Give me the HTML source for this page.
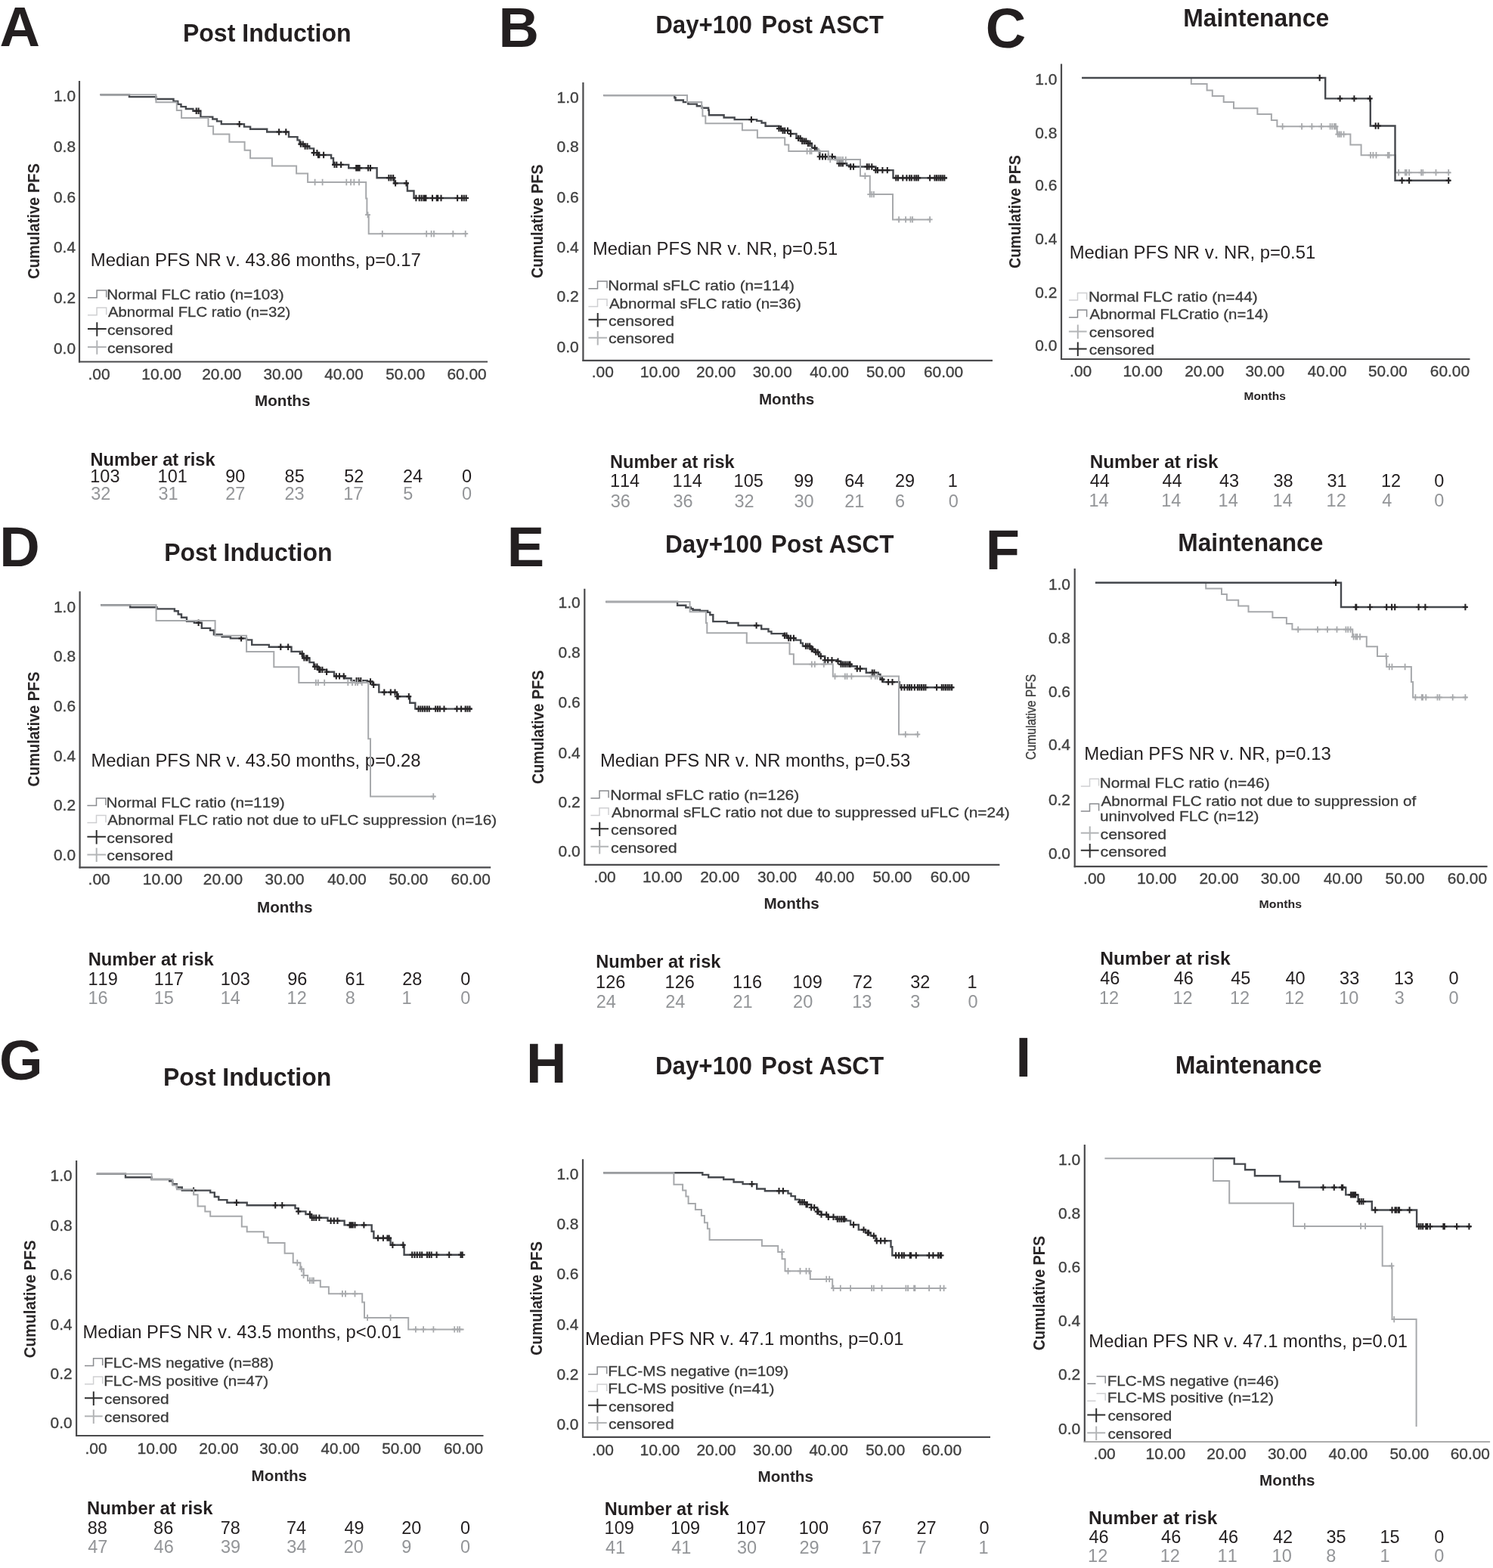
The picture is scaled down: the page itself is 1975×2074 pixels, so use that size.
<!DOCTYPE html>
<html><head><meta charset="utf-8"><title>Kaplan-Meier PFS by FLC ratio and FLC-MS</title>
<style>
html,body{margin:0;padding:0;background:#fff;}
svg{display:block;}
text{font-family:"Liberation Sans", Arial, Helvetica, sans-serif;font-kerning:none;}
</style></head>
<body>
<svg width="1975" height="2074" viewBox="0 0 1975 2074" fill="#333333">
<rect width="1975" height="2074" fill="#fff"/>
<text x="-0.5" y="60.8" font-size="74" font-weight="bold" fill="#231f20">A</text>
<text x="241.9" y="54.7" font-size="33" font-weight="bold" fill="#231f20" textLength="222.7" lengthAdjust="spacingAndGlyphs">Post Induction</text>
<line x1="105.0" y1="107.0" x2="105.0" y2="479.5" stroke="#4a4a4c" stroke-width="2.2"/>
<line x1="104.0" y1="478.5" x2="645.0" y2="478.5" stroke="#4a4a4c" stroke-width="2.2"/>
<text x="71.0" y="133.8" font-size="20.5" fill="#404040" textLength="29.0" lengthAdjust="spacingAndGlyphs" stroke="#404040" stroke-width="0.35">1.0</text>
<text x="71.0" y="200.6" font-size="20.5" fill="#404040" textLength="29.0" lengthAdjust="spacingAndGlyphs" stroke="#404040" stroke-width="0.35">0.8</text>
<text x="71.0" y="267.5" font-size="20.5" fill="#404040" textLength="29.0" lengthAdjust="spacingAndGlyphs" stroke="#404040" stroke-width="0.35">0.6</text>
<text x="71.0" y="334.3" font-size="20.5" fill="#404040" textLength="29.0" lengthAdjust="spacingAndGlyphs" stroke="#404040" stroke-width="0.35">0.4</text>
<text x="71.0" y="401.1" font-size="20.5" fill="#404040" textLength="29.0" lengthAdjust="spacingAndGlyphs" stroke="#404040" stroke-width="0.35">0.2</text>
<text x="71.0" y="468.1" font-size="20.5" fill="#404040" textLength="29.0" lengthAdjust="spacingAndGlyphs" stroke="#404040" stroke-width="0.35">0.0</text>
<text x="116.5" y="501.5" font-size="20.5" fill="#404040" textLength="29.1" lengthAdjust="spacingAndGlyphs" stroke="#404040" stroke-width="0.35">.00</text>
<text x="187.2" y="501.5" font-size="20.5" fill="#404040" textLength="52.7" lengthAdjust="spacingAndGlyphs" stroke="#404040" stroke-width="0.35">10.00</text>
<text x="267.2" y="501.5" font-size="20.5" fill="#404040" textLength="52.2" lengthAdjust="spacingAndGlyphs" stroke="#404040" stroke-width="0.35">20.00</text>
<text x="348.4" y="501.5" font-size="20.5" fill="#404040" textLength="51.9" lengthAdjust="spacingAndGlyphs" stroke="#404040" stroke-width="0.35">30.00</text>
<text x="429.2" y="501.5" font-size="20.5" fill="#404040" textLength="51.6" lengthAdjust="spacingAndGlyphs" stroke="#404040" stroke-width="0.35">40.00</text>
<text x="510.3" y="501.5" font-size="20.5" fill="#404040" textLength="51.9" lengthAdjust="spacingAndGlyphs" stroke="#404040" stroke-width="0.35">50.00</text>
<text x="591.4" y="501.5" font-size="20.5" fill="#404040" textLength="52.2" lengthAdjust="spacingAndGlyphs" stroke="#404040" stroke-width="0.35">60.00</text>
<text x="337.0" y="536.7" font-size="20.5" font-weight="bold" fill="#2a2728" textLength="73.4" lengthAdjust="spacingAndGlyphs">Months</text>
<text x="-0.8" y="0" font-size="22" font-weight="bold" fill="#2a2728" textLength="153.1" lengthAdjust="spacingAndGlyphs" transform="translate(52.4,368.3) rotate(-90)">Cumulative PFS</text>
<text x="119.8" y="352.0" font-size="24" fill="#231f20" textLength="437.0" lengthAdjust="spacingAndGlyphs">Median PFS NR v. 43.86 months, p=0.17</text>
<path d="M116.0,393.8H128.1V384.1H140.7V393.3" fill="none" stroke="#8a8c90" stroke-width="1.5"/>
<text x="141.2" y="396.0" font-size="19" fill="#3a3a3a" textLength="234.4" lengthAdjust="spacingAndGlyphs" stroke="#3a3a3a" stroke-width="0.3">Normal FLC ratio (n=103)</text>
<path d="M116.0,416.7H128.1V407.0H140.7V416.2" fill="none" stroke="#cfd0d2" stroke-width="1.5"/>
<text x="142.9" y="418.9" font-size="19" fill="#3a3a3a" textLength="241.5" lengthAdjust="spacingAndGlyphs" stroke="#3a3a3a" stroke-width="0.3">Abnormal FLC ratio (n=32)</text>
<path d="M116.0,435.1H140.7M128.3,426.3V444.8" fill="none" stroke="#303030" stroke-width="2"/>
<text x="142.0" y="442.8" font-size="19" fill="#3a3a3a" textLength="87.0" lengthAdjust="spacingAndGlyphs" stroke="#3a3a3a" stroke-width="0.3">censored</text>
<path d="M116.0,459.0H140.7M128.3,450.2V468.7" fill="none" stroke="#b3b5b7" stroke-width="2"/>
<text x="142.0" y="466.7" font-size="19" fill="#3a3a3a" textLength="87.0" lengthAdjust="spacingAndGlyphs" stroke="#3a3a3a" stroke-width="0.3">censored</text>
<text x="119.5" y="616.0" font-size="23.5" font-weight="bold" fill="#231f20" textLength="165.1" lengthAdjust="spacingAndGlyphs">Number at risk</text>
<text x="119.3" y="637.9" font-size="23.5" fill="#231f20">103</text>
<text x="120.2" y="660.8" font-size="23.5" fill="#939598">32</text>
<text x="208.6" y="637.9" font-size="23.5" fill="#231f20">101</text>
<text x="209.5" y="660.8" font-size="23.5" fill="#939598">31</text>
<text x="298.3" y="637.9" font-size="23.5" fill="#231f20">90</text>
<text x="298.2" y="660.8" font-size="23.5" fill="#939598">27</text>
<text x="376.6" y="637.9" font-size="23.5" fill="#231f20">85</text>
<text x="376.4" y="660.8" font-size="23.5" fill="#939598">23</text>
<text x="455.2" y="637.9" font-size="23.5" fill="#231f20">52</text>
<text x="454.3" y="660.8" font-size="23.5" fill="#939598">17</text>
<text x="533.0" y="637.9" font-size="23.5" fill="#231f20">24</text>
<text x="533.3" y="660.8" font-size="23.5" fill="#939598">5</text>
<text x="611.0" y="637.9" font-size="23.5" fill="#231f20">0</text>
<text x="611.0" y="660.8" font-size="23.5" fill="#939598">0</text>
<path d="M132.5,125.3H171.0V128.1H206.4V131.0H229.5V133.9H235.2V137.9H239.5V141.1H245.9V144.0H255.4V146.8H265.4V154.6H281.3V157.5H287.0V160.4H292.8V164.1H323.0V167.6H331.1V170.7H353.2V174.5H382.0V181.1H393.5V185.4H396.4V190.6H403.6V193.5H409.4V196.4H415.1V202.1H420.9V205.0H438.1V209.3H441.0V217.9H461.2V222.3H498.6V235.2H521.6V242.4H538.9V252.5H547.5V262.0H618.0" fill="none" stroke="#46494e" stroke-width="2.4"/>
<path d="M259.7,142.6v8.4M256.2,146.8h7M262.6,142.6v8.4M259.1,146.8h7M316.7,159.9v8.4M313.2,164.1h7M369.1,170.3v8.4M365.6,174.5h7M378.3,170.3v8.4M374.8,174.5h7M397.8,186.4v8.4M394.3,190.6h7M400.7,186.4v8.4M397.2,190.6h7M403.6,189.3v8.4M400.1,193.5h7M406.5,189.3v8.4M403.0,193.5h7M415.1,197.9v8.4M411.6,202.1h7M419.4,197.9v8.4M415.9,202.1h7M420.9,200.8v8.4M417.4,205.0h7M422.3,200.8v8.4M418.8,205.0h7M428.1,200.8v8.4M424.6,205.0h7M442.5,213.7v8.4M439.0,217.9h7M445.3,213.7v8.4M441.8,217.9h7M451.1,213.7v8.4M447.6,217.9h7M471.2,218.1v8.4M467.7,222.3h7M472.7,218.1v8.4M469.2,222.3h7M474.1,218.1v8.4M470.6,222.3h7M475.6,218.1v8.4M472.1,222.3h7M487.1,218.1v8.4M483.6,222.3h7M490.0,218.1v8.4M486.5,222.3h7M514.4,231.0v8.4M510.9,235.2h7M517.3,231.0v8.4M513.8,235.2h7M520.2,231.0v8.4M516.7,235.2h7M523.1,238.2v8.4M519.6,242.4h7M537.5,238.2v8.4M534.0,242.4h7M550.4,257.8v8.4M546.9,262.0h7M554.7,257.8v8.4M551.2,262.0h7M557.6,257.8v8.4M554.1,262.0h7M560.5,257.8v8.4M557.0,262.0h7M561.9,257.8v8.4M558.4,262.0h7M563.4,257.8v8.4M559.9,262.0h7M572.0,257.8v8.4M568.5,262.0h7M577.8,257.8v8.4M574.3,262.0h7M579.2,257.8v8.4M575.7,262.0h7M583.5,257.8v8.4M580.0,262.0h7M605.1,257.8v8.4M601.6,262.0h7M610.9,257.8v8.4M607.4,262.0h7M613.7,257.8v8.4M610.2,262.0h7M616.6,257.8v8.4M613.1,262.0h7" fill="none" stroke="#262426" stroke-width="2.1"/>
<path d="M132.5,125.3H206.4V135.3H233.8V146.0H240.1V156.1H275.5V167.0H282.1V177.6H303.4V187.7H323.6V198.7H331.1V209.3H359.9V219.4H392.1V229.5H407.1V241.0H484.2V262.6H485.4V284.1H487.7V309.2H618.0" fill="none" stroke="#a7a9ac" stroke-width="2.0"/>
<path d="M416.6,236.8v8.4M413.1,241.0h7M426.6,236.8v8.4M423.1,241.0h7M458.3,236.8v8.4M454.8,241.0h7M464.1,236.8v8.4M460.6,241.0h7M468.4,236.8v8.4M464.9,241.0h7M475.0,236.8v8.4M471.5,241.0h7M486.5,279.9v8.4M483.0,284.1h7M505.8,305.0v8.4M502.3,309.2h7M564.2,305.0v8.4M560.7,309.2h7M570.6,305.0v8.4M567.1,309.2h7M574.0,305.0v8.4M570.5,309.2h7M599.3,305.0v8.4M595.8,309.2h7M615.7,305.0v8.4M612.2,309.2h7" fill="none" stroke="#a7a9ac" stroke-width="1.8"/>
<text x="659.5" y="61.8" font-size="74" font-weight="bold" fill="#231f20">B</text>
<text x="867.2" y="43.8" font-size="33" font-weight="bold" fill="#231f20" textLength="127.8" lengthAdjust="spacingAndGlyphs">Day+100</text>
<text x="1007.2" y="43.8" font-size="33" font-weight="bold" fill="#231f20" textLength="161.7" lengthAdjust="spacingAndGlyphs">Post ASCT</text>
<line x1="771.4" y1="109.0" x2="771.4" y2="477.8" stroke="#4a4a4c" stroke-width="2.2"/>
<line x1="770.4" y1="476.8" x2="1313.0" y2="476.8" stroke="#4a4a4c" stroke-width="2.2"/>
<text x="736.6" y="135.5" font-size="20.5" fill="#404040" textLength="29.2" lengthAdjust="spacingAndGlyphs" stroke="#404040" stroke-width="0.35">1.0</text>
<text x="736.6" y="200.6" font-size="20.5" fill="#404040" textLength="29.2" lengthAdjust="spacingAndGlyphs" stroke="#404040" stroke-width="0.35">0.8</text>
<text x="736.6" y="267.5" font-size="20.5" fill="#404040" textLength="29.2" lengthAdjust="spacingAndGlyphs" stroke="#404040" stroke-width="0.35">0.6</text>
<text x="736.6" y="334.3" font-size="20.5" fill="#404040" textLength="29.2" lengthAdjust="spacingAndGlyphs" stroke="#404040" stroke-width="0.35">0.4</text>
<text x="736.6" y="399.4" font-size="20.5" fill="#404040" textLength="29.2" lengthAdjust="spacingAndGlyphs" stroke="#404040" stroke-width="0.35">0.2</text>
<text x="736.6" y="466.3" font-size="20.5" fill="#404040" textLength="29.2" lengthAdjust="spacingAndGlyphs" stroke="#404040" stroke-width="0.35">0.0</text>
<text x="782.7" y="499.0" font-size="20.5" fill="#404040" textLength="29.1" lengthAdjust="spacingAndGlyphs" stroke="#404040" stroke-width="0.35">.00</text>
<text x="846.8" y="499.0" font-size="20.5" fill="#404040" textLength="52.7" lengthAdjust="spacingAndGlyphs" stroke="#404040" stroke-width="0.35">10.00</text>
<text x="921.1" y="499.0" font-size="20.5" fill="#404040" textLength="52.2" lengthAdjust="spacingAndGlyphs" stroke="#404040" stroke-width="0.35">20.00</text>
<text x="995.8" y="499.0" font-size="20.5" fill="#404040" textLength="51.9" lengthAdjust="spacingAndGlyphs" stroke="#404040" stroke-width="0.35">30.00</text>
<text x="1071.3" y="499.0" font-size="20.5" fill="#404040" textLength="51.6" lengthAdjust="spacingAndGlyphs" stroke="#404040" stroke-width="0.35">40.00</text>
<text x="1146.0" y="499.0" font-size="20.5" fill="#404040" textLength="51.9" lengthAdjust="spacingAndGlyphs" stroke="#404040" stroke-width="0.35">50.00</text>
<text x="1222.0" y="499.0" font-size="20.5" fill="#404040" textLength="52.2" lengthAdjust="spacingAndGlyphs" stroke="#404040" stroke-width="0.35">60.00</text>
<text x="1003.9" y="534.9" font-size="20.5" font-weight="bold" fill="#2a2728" textLength="73.4" lengthAdjust="spacingAndGlyphs">Months</text>
<text x="-0.8" y="0" font-size="22" font-weight="bold" fill="#2a2728" textLength="150.5" lengthAdjust="spacingAndGlyphs" transform="translate(718.2,367.3) rotate(-90)">Cumulative PFS</text>
<text x="784.0" y="337.3" font-size="24" fill="#231f20" textLength="324.2" lengthAdjust="spacingAndGlyphs">Median PFS NR v. NR, p=0.51</text>
<path d="M778.4,381.8H790.5V372.1H803.0V381.3" fill="none" stroke="#8a8c90" stroke-width="1.5"/>
<text x="804.2" y="384.0" font-size="19" fill="#3a3a3a" textLength="246.7" lengthAdjust="spacingAndGlyphs" stroke="#3a3a3a" stroke-width="0.3">Normal sFLC ratio (n=114)</text>
<path d="M778.4,405.4H790.5V395.7H803.0V404.9" fill="none" stroke="#cfd0d2" stroke-width="1.5"/>
<text x="805.9" y="407.6" font-size="19" fill="#3a3a3a" textLength="253.9" lengthAdjust="spacingAndGlyphs" stroke="#3a3a3a" stroke-width="0.3">Abnormal sFLC ratio (n=36)</text>
<path d="M778.4,422.8H803.0M790.7,414.0V432.5" fill="none" stroke="#303030" stroke-width="2"/>
<text x="805.0" y="430.5" font-size="19" fill="#3a3a3a" textLength="87.0" lengthAdjust="spacingAndGlyphs" stroke="#3a3a3a" stroke-width="0.3">censored</text>
<path d="M778.4,446.7H803.0M790.7,437.9V456.4" fill="none" stroke="#b3b5b7" stroke-width="2"/>
<text x="805.0" y="454.4" font-size="19" fill="#3a3a3a" textLength="87.0" lengthAdjust="spacingAndGlyphs" stroke="#3a3a3a" stroke-width="0.3">censored</text>
<text x="807.1" y="618.6" font-size="23.5" font-weight="bold" fill="#231f20" textLength="164.4" lengthAdjust="spacingAndGlyphs">Number at risk</text>
<text x="806.9" y="644.3" font-size="23.5" fill="#231f20">114</text>
<text x="807.8" y="670.7" font-size="23.5" fill="#939598">36</text>
<text x="889.6" y="644.3" font-size="23.5" fill="#231f20">114</text>
<text x="890.5" y="670.7" font-size="23.5" fill="#939598">36</text>
<text x="970.6" y="644.3" font-size="23.5" fill="#231f20">105</text>
<text x="971.5" y="670.7" font-size="23.5" fill="#939598">32</text>
<text x="1050.3" y="644.3" font-size="23.5" fill="#231f20">99</text>
<text x="1050.5" y="670.7" font-size="23.5" fill="#939598">30</text>
<text x="1117.2" y="644.3" font-size="23.5" fill="#231f20">64</text>
<text x="1117.2" y="670.7" font-size="23.5" fill="#939598">21</text>
<text x="1184.0" y="644.3" font-size="23.5" fill="#231f20">29</text>
<text x="1184.0" y="670.7" font-size="23.5" fill="#939598">6</text>
<text x="1253.8" y="644.3" font-size="23.5" fill="#231f20">1</text>
<text x="1254.7" y="670.7" font-size="23.5" fill="#939598">0</text>
<path d="M798.2,126.1H892.3V129.2H893.6V132.5H903.9V135.1H910.3V137.6H921.8V140.2H928.2V142.8H937.1V145.8H937.9V152.2H957.6V155.5H971.7V158.1H1001.1V159.9H1007.5V162.5H1012.6V166.8H1030.5V170.1H1035.6V172.7H1045.9V177.0H1053.5V182.9H1061.2V186.8H1068.9V189.8H1074.0V195.7H1080.4V199.6H1084.2V207.2H1104.7V211.1H1109.8V216.2H1120.1V218.7H1125.2V220.5H1158.4V225.1H1181.5V235.4H1253.1" fill="none" stroke="#46494e" stroke-width="2.4"/>
<path d="M993.9,153.9v8.4M990.4,158.1h7M1030.5,165.9v8.4M1027.0,170.1h7M1033.1,165.9v8.4M1029.6,170.1h7M1035.6,168.5v8.4M1032.1,172.7h7M1038.2,168.5v8.4M1034.7,172.7h7M1042.0,168.5v8.4M1038.5,172.7h7M1045.9,172.8v8.4M1042.4,177.0h7M1056.1,178.7v8.4M1052.6,182.9h7M1058.7,178.7v8.4M1055.2,182.9h7M1061.2,182.6v8.4M1057.7,186.8h7M1063.8,182.6v8.4M1060.3,186.8h7M1066.3,182.6v8.4M1062.8,186.8h7M1068.9,185.6v8.4M1065.4,189.8h7M1071.4,185.6v8.4M1067.9,189.8h7M1077.8,191.5v8.4M1074.3,195.7h7M1084.2,203.0v8.4M1080.7,207.2h7M1088.1,203.0v8.4M1084.6,207.2h7M1091.9,203.0v8.4M1088.4,207.2h7M1095.8,203.0v8.4M1092.3,207.2h7M1100.9,203.0v8.4M1097.4,207.2h7M1109.8,212.0v8.4M1106.3,216.2h7M1112.4,212.0v8.4M1108.9,216.2h7M1114.9,212.0v8.4M1111.4,216.2h7M1125.2,216.3v8.4M1121.7,220.5h7M1129.0,216.3v8.4M1125.5,220.5h7M1146.9,216.3v8.4M1143.4,220.5h7M1149.5,216.3v8.4M1146.0,220.5h7M1153.3,216.3v8.4M1149.8,220.5h7M1158.4,220.9v8.4M1154.9,225.1h7M1161.0,220.9v8.4M1157.5,225.1h7M1167.4,220.9v8.4M1163.9,225.1h7M1173.8,220.9v8.4M1170.3,225.1h7M1185.3,231.2v8.4M1181.8,235.4h7M1187.9,231.2v8.4M1184.4,235.4h7M1194.3,231.2v8.4M1190.8,235.4h7M1199.4,231.2v8.4M1195.9,235.4h7M1203.2,231.2v8.4M1199.7,235.4h7M1205.8,231.2v8.4M1202.3,235.4h7M1209.6,231.2v8.4M1206.1,235.4h7M1212.2,231.2v8.4M1208.7,235.4h7M1214.7,231.2v8.4M1211.2,235.4h7M1230.1,231.2v8.4M1226.6,235.4h7M1236.5,231.2v8.4M1233.0,235.4h7M1239.0,231.2v8.4M1235.5,235.4h7M1241.6,231.2v8.4M1238.1,235.4h7M1244.2,231.2v8.4M1240.7,235.4h7M1246.7,231.2v8.4M1243.2,235.4h7M1249.3,231.2v8.4M1245.8,235.4h7" fill="none" stroke="#262426" stroke-width="2.1"/>
<path d="M798.2,126.1H909.0V135.1H928.2V143.3H929.4V153.5H933.3V163.2H981.9V172.2H1001.9V182.2H1038.2V191.4H1043.3V200.1H1095.8V211.1H1138.0V232.8H1150.8V257.1H1181.0V290.4H1231.4" fill="none" stroke="#a7a9ac" stroke-width="2.0"/>
<path d="M1067.6,195.9v8.4M1064.1,200.1h7M1071.4,195.9v8.4M1067.9,200.1h7M1073.5,195.9v8.4M1070.0,200.1h7M1083.0,195.9v8.4M1079.5,200.1h7M1098.3,206.9v8.4M1094.8,211.1h7M1107.3,206.9v8.4M1103.8,211.1h7M1109.8,206.9v8.4M1106.3,211.1h7M1112.4,206.9v8.4M1108.9,211.1h7M1114.9,206.9v8.4M1111.4,211.1h7M1118.8,206.9v8.4M1115.3,211.1h7M1144.4,228.6v8.4M1140.9,232.8h7M1150.8,252.9v8.4M1147.3,257.1h7M1153.3,252.9v8.4M1149.8,257.1h7M1155.9,252.9v8.4M1152.4,257.1h7M1189.1,286.2v8.4M1185.6,290.4h7M1198.1,286.2v8.4M1194.6,290.4h7M1204.5,286.2v8.4M1201.0,290.4h7M1207.1,286.2v8.4M1203.6,290.4h7M1230.1,286.2v8.4M1226.6,290.4h7" fill="none" stroke="#a7a9ac" stroke-width="1.8"/>
<text x="1303.8" y="62.5" font-size="74" font-weight="bold" fill="#231f20">C</text>
<text x="1565.3" y="35.1" font-size="33" font-weight="bold" fill="#231f20" textLength="192.8" lengthAdjust="spacingAndGlyphs">Maintenance</text>
<line x1="1404.0" y1="84.4" x2="1404.0" y2="476.0" stroke="#4a4a4c" stroke-width="2.2"/>
<line x1="1403.0" y1="475.0" x2="1944.5" y2="475.0" stroke="#4a4a4c" stroke-width="2.2"/>
<text x="1369.2" y="112.4" font-size="20.5" fill="#404040" textLength="29.2" lengthAdjust="spacingAndGlyphs" stroke="#404040" stroke-width="0.35">1.0</text>
<text x="1369.2" y="182.6" font-size="20.5" fill="#404040" textLength="29.2" lengthAdjust="spacingAndGlyphs" stroke="#404040" stroke-width="0.35">0.8</text>
<text x="1369.2" y="252.4" font-size="20.5" fill="#404040" textLength="29.2" lengthAdjust="spacingAndGlyphs" stroke="#404040" stroke-width="0.35">0.6</text>
<text x="1369.2" y="322.6" font-size="20.5" fill="#404040" textLength="29.2" lengthAdjust="spacingAndGlyphs" stroke="#404040" stroke-width="0.35">0.4</text>
<text x="1369.2" y="393.5" font-size="20.5" fill="#404040" textLength="29.2" lengthAdjust="spacingAndGlyphs" stroke="#404040" stroke-width="0.35">0.2</text>
<text x="1369.2" y="464.4" font-size="20.5" fill="#404040" textLength="29.2" lengthAdjust="spacingAndGlyphs" stroke="#404040" stroke-width="0.35">0.0</text>
<text x="1415.1" y="498.1" font-size="20.5" fill="#404040" textLength="29.1" lengthAdjust="spacingAndGlyphs" stroke="#404040" stroke-width="0.35">.00</text>
<text x="1485.4" y="498.1" font-size="20.5" fill="#404040" textLength="52.7" lengthAdjust="spacingAndGlyphs" stroke="#404040" stroke-width="0.35">10.00</text>
<text x="1567.2" y="498.1" font-size="20.5" fill="#404040" textLength="52.2" lengthAdjust="spacingAndGlyphs" stroke="#404040" stroke-width="0.35">20.00</text>
<text x="1647.4" y="498.1" font-size="20.5" fill="#404040" textLength="51.9" lengthAdjust="spacingAndGlyphs" stroke="#404040" stroke-width="0.35">30.00</text>
<text x="1729.8" y="498.1" font-size="20.5" fill="#404040" textLength="51.6" lengthAdjust="spacingAndGlyphs" stroke="#404040" stroke-width="0.35">40.00</text>
<text x="1809.9" y="498.1" font-size="20.5" fill="#404040" textLength="51.9" lengthAdjust="spacingAndGlyphs" stroke="#404040" stroke-width="0.35">50.00</text>
<text x="1891.8" y="498.1" font-size="20.5" fill="#404040" textLength="52.2" lengthAdjust="spacingAndGlyphs" stroke="#404040" stroke-width="0.35">60.00</text>
<text x="1645.4" y="529.2" font-size="15" font-weight="bold" fill="#2a2728" textLength="55.5" lengthAdjust="spacingAndGlyphs">Months</text>
<text x="-0.8" y="0" font-size="22" font-weight="bold" fill="#2a2728" textLength="149.7" lengthAdjust="spacingAndGlyphs" transform="translate(1350.4,354.1) rotate(-90)">Cumulative PFS</text>
<text x="1414.7" y="341.5" font-size="24" fill="#231f20" textLength="325.6" lengthAdjust="spacingAndGlyphs">Median PFS NR v. NR, p=0.51</text>
<path d="M1413.9,397.1H1425.5V387.4H1437.6V396.6" fill="none" stroke="#cfd0d2" stroke-width="1.5"/>
<text x="1439.9" y="399.3" font-size="19" fill="#3a3a3a" textLength="223.7" lengthAdjust="spacingAndGlyphs" stroke="#3a3a3a" stroke-width="0.3">Normal FLC ratio (n=44)</text>
<path d="M1413.9,419.8H1425.5V410.1H1437.6V419.3" fill="none" stroke="#8a8c90" stroke-width="1.5"/>
<text x="1441.6" y="422.0" font-size="19" fill="#3a3a3a" textLength="236.2" lengthAdjust="spacingAndGlyphs" stroke="#3a3a3a" stroke-width="0.3">Abnormal FLCratio (n=14)</text>
<path d="M1413.9,438.4H1437.6M1425.8,429.6V448.1" fill="none" stroke="#b3b5b7" stroke-width="2"/>
<text x="1440.7" y="446.1" font-size="19" fill="#3a3a3a" textLength="86.4" lengthAdjust="spacingAndGlyphs" stroke="#3a3a3a" stroke-width="0.3">censored</text>
<path d="M1413.9,461.4H1437.6M1425.8,452.6V471.1" fill="none" stroke="#303030" stroke-width="2"/>
<text x="1440.7" y="469.1" font-size="19" fill="#3a3a3a" textLength="86.4" lengthAdjust="spacingAndGlyphs" stroke="#3a3a3a" stroke-width="0.3">censored</text>
<text x="1441.8" y="618.5" font-size="23.5" font-weight="bold" fill="#231f20" textLength="169.8" lengthAdjust="spacingAndGlyphs">Number at risk</text>
<text x="1441.8" y="644.4" font-size="23.5" fill="#231f20">44</text>
<text x="1440.5" y="670.3" font-size="23.5" fill="#939598">14</text>
<text x="1537.5" y="644.4" font-size="23.5" fill="#231f20">44</text>
<text x="1536.2" y="670.3" font-size="23.5" fill="#939598">14</text>
<text x="1612.9" y="644.4" font-size="23.5" fill="#231f20">43</text>
<text x="1611.6" y="670.3" font-size="23.5" fill="#939598">14</text>
<text x="1684.5" y="644.4" font-size="23.5" fill="#231f20">38</text>
<text x="1683.6" y="670.3" font-size="23.5" fill="#939598">14</text>
<text x="1755.5" y="644.4" font-size="23.5" fill="#231f20">31</text>
<text x="1754.6" y="670.3" font-size="23.5" fill="#939598">12</text>
<text x="1826.9" y="644.4" font-size="23.5" fill="#231f20">12</text>
<text x="1828.2" y="670.3" font-size="23.5" fill="#939598">4</text>
<text x="1897.2" y="644.4" font-size="23.5" fill="#231f20">0</text>
<text x="1897.2" y="670.3" font-size="23.5" fill="#939598">0</text>
<path d="M1431.1,103.0H1575.8V111.0H1596.6V119.4H1603.8V127.1H1618.7V134.9H1632.0V143.2H1663.4V151.0H1681.9V159.0H1689.4V167.3H1768.7V177.6H1786.4V191.4H1800.6V205.3H1846.0V228.3H1918.9" fill="none" stroke="#a7a9ac" stroke-width="2.0"/>
<path d="M1696.6,163.1v8.4M1693.1,167.3h7M1722.1,163.1v8.4M1718.6,167.3h7M1735.4,163.1v8.4M1731.9,167.3h7M1747.9,163.1v8.4M1744.4,167.3h7M1759.6,163.1v8.4M1756.1,167.3h7M1762.3,163.1v8.4M1758.8,167.3h7M1765.1,163.1v8.4M1761.6,167.3h7M1767.0,163.1v8.4M1763.5,167.3h7M1769.8,173.4v8.4M1766.3,177.6h7M1772.0,173.4v8.4M1768.5,177.6h7M1774.2,173.4v8.4M1770.7,177.6h7M1777.6,173.4v8.4M1774.1,177.6h7M1813.0,201.1v8.4M1809.5,205.3h7M1816.4,201.1v8.4M1812.9,205.3h7M1820.5,201.1v8.4M1817.0,205.3h7M1835.8,201.1v8.4M1832.3,205.3h7M1837.7,201.1v8.4M1834.2,205.3h7M1850.2,224.1v8.4M1846.7,228.3h7M1858.8,224.1v8.4M1855.3,228.3h7M1860.7,224.1v8.4M1857.2,228.3h7M1864.1,224.1v8.4M1860.6,228.3h7M1880.1,224.1v8.4M1876.6,228.3h7M1882.3,224.1v8.4M1878.8,228.3h7M1899.5,224.1v8.4M1896.0,228.3h7M1916.2,224.1v8.4M1912.7,228.3h7" fill="none" stroke="#a7a9ac" stroke-width="1.8"/>
<path d="M1431.1,103.0H1753.2V130.4H1812.8V166.5H1845.5V238.8H1918.9" fill="none" stroke="#46494e" stroke-width="2.4"/>
<path d="M1745.7,98.8v8.4M1742.2,103.0h7M1772.6,126.2v8.4M1769.1,130.4h7M1791.4,126.2v8.4M1787.9,130.4h7M1812.2,126.2v8.4M1808.7,130.4h7M1819.7,162.3v8.4M1816.2,166.5h7M1823.3,162.3v8.4M1819.8,166.5h7M1854.6,234.6v8.4M1851.1,238.8h7M1864.1,234.6v8.4M1860.6,238.8h7M1916.2,234.6v8.4M1912.7,238.8h7" fill="none" stroke="#262426" stroke-width="2.1"/>
<text x="-0.8" y="749.2" font-size="74" font-weight="bold" fill="#231f20">D</text>
<text x="217.2" y="741.5" font-size="33" font-weight="bold" fill="#231f20" textLength="222.4" lengthAdjust="spacingAndGlyphs">Post Induction</text>
<line x1="105.6" y1="782.2" x2="105.6" y2="1148.4" stroke="#4a4a4c" stroke-width="2.2"/>
<line x1="104.6" y1="1147.4" x2="649.2" y2="1147.4" stroke="#4a4a4c" stroke-width="2.2"/>
<text x="71.0" y="809.7" font-size="20.5" fill="#404040" textLength="29.0" lengthAdjust="spacingAndGlyphs" stroke="#404040" stroke-width="0.35">1.0</text>
<text x="71.0" y="874.8" font-size="20.5" fill="#404040" textLength="29.0" lengthAdjust="spacingAndGlyphs" stroke="#404040" stroke-width="0.35">0.8</text>
<text x="71.0" y="940.9" font-size="20.5" fill="#404040" textLength="29.0" lengthAdjust="spacingAndGlyphs" stroke="#404040" stroke-width="0.35">0.6</text>
<text x="71.0" y="1006.7" font-size="20.5" fill="#404040" textLength="29.0" lengthAdjust="spacingAndGlyphs" stroke="#404040" stroke-width="0.35">0.4</text>
<text x="71.0" y="1071.8" font-size="20.5" fill="#404040" textLength="29.0" lengthAdjust="spacingAndGlyphs" stroke="#404040" stroke-width="0.35">0.2</text>
<text x="71.0" y="1137.6" font-size="20.5" fill="#404040" textLength="29.0" lengthAdjust="spacingAndGlyphs" stroke="#404040" stroke-width="0.35">0.0</text>
<text x="116.6" y="1170.4" font-size="20.5" fill="#404040" textLength="29.1" lengthAdjust="spacingAndGlyphs" stroke="#404040" stroke-width="0.35">.00</text>
<text x="188.7" y="1170.4" font-size="20.5" fill="#404040" textLength="52.7" lengthAdjust="spacingAndGlyphs" stroke="#404040" stroke-width="0.35">10.00</text>
<text x="268.8" y="1170.4" font-size="20.5" fill="#404040" textLength="52.2" lengthAdjust="spacingAndGlyphs" stroke="#404040" stroke-width="0.35">20.00</text>
<text x="350.6" y="1170.4" font-size="20.5" fill="#404040" textLength="51.9" lengthAdjust="spacingAndGlyphs" stroke="#404040" stroke-width="0.35">30.00</text>
<text x="433.2" y="1170.4" font-size="20.5" fill="#404040" textLength="51.6" lengthAdjust="spacingAndGlyphs" stroke="#404040" stroke-width="0.35">40.00</text>
<text x="514.5" y="1170.4" font-size="20.5" fill="#404040" textLength="51.9" lengthAdjust="spacingAndGlyphs" stroke="#404040" stroke-width="0.35">50.00</text>
<text x="596.6" y="1170.4" font-size="20.5" fill="#404040" textLength="52.2" lengthAdjust="spacingAndGlyphs" stroke="#404040" stroke-width="0.35">60.00</text>
<text x="340.0" y="1207.3" font-size="20.5" font-weight="bold" fill="#2a2728" textLength="73.4" lengthAdjust="spacingAndGlyphs">Months</text>
<text x="-0.8" y="0" font-size="22" font-weight="bold" fill="#2a2728" textLength="152.0" lengthAdjust="spacingAndGlyphs" transform="translate(52.4,1039.6) rotate(-90)">Cumulative PFS</text>
<text x="120.4" y="1013.9" font-size="24" fill="#231f20" textLength="436.2" lengthAdjust="spacingAndGlyphs">Median PFS NR v. 43.50 months, p=0.28</text>
<path d="M115.4,1065.5H127.5V1055.8H140.0V1065.0" fill="none" stroke="#8a8c90" stroke-width="1.5"/>
<text x="140.5" y="1067.7" font-size="19" fill="#3a3a3a" textLength="236.2" lengthAdjust="spacingAndGlyphs" stroke="#3a3a3a" stroke-width="0.3">Normal FLC ratio (n=119)</text>
<path d="M115.4,1088.3H127.5V1078.6H140.0V1087.8" fill="none" stroke="#cfd0d2" stroke-width="1.5"/>
<text x="142.2" y="1090.5" font-size="19" fill="#3a3a3a" textLength="514.9" lengthAdjust="spacingAndGlyphs" stroke="#3a3a3a" stroke-width="0.3">Abnormal FLC ratio not due to uFLC suppression (n=16)</text>
<path d="M115.4,1106.8H140.0M127.7,1098.0V1116.5" fill="none" stroke="#303030" stroke-width="2"/>
<text x="141.3" y="1114.5" font-size="19" fill="#3a3a3a" textLength="87.7" lengthAdjust="spacingAndGlyphs" stroke="#3a3a3a" stroke-width="0.3">censored</text>
<path d="M115.4,1130.4H140.0M127.7,1121.6V1140.1" fill="none" stroke="#b3b5b7" stroke-width="2"/>
<text x="141.3" y="1138.1" font-size="19" fill="#3a3a3a" textLength="87.7" lengthAdjust="spacingAndGlyphs" stroke="#3a3a3a" stroke-width="0.3">censored</text>
<text x="116.7" y="1276.9" font-size="23.5" font-weight="bold" fill="#231f20" textLength="166.1" lengthAdjust="spacingAndGlyphs">Number at risk</text>
<text x="116.5" y="1302.6" font-size="23.5" fill="#231f20">119</text>
<text x="116.5" y="1327.9" font-size="23.5" fill="#939598">16</text>
<text x="203.7" y="1302.6" font-size="23.5" fill="#231f20">117</text>
<text x="203.7" y="1327.9" font-size="23.5" fill="#939598">15</text>
<text x="291.7" y="1302.6" font-size="23.5" fill="#231f20">103</text>
<text x="291.7" y="1327.9" font-size="23.5" fill="#939598">14</text>
<text x="380.3" y="1302.6" font-size="23.5" fill="#231f20">96</text>
<text x="379.6" y="1327.9" font-size="23.5" fill="#939598">12</text>
<text x="456.6" y="1302.6" font-size="23.5" fill="#231f20">61</text>
<text x="456.8" y="1327.9" font-size="23.5" fill="#939598">8</text>
<text x="532.2" y="1302.6" font-size="23.5" fill="#231f20">28</text>
<text x="531.6" y="1327.9" font-size="23.5" fill="#939598">1</text>
<text x="609.3" y="1302.6" font-size="23.5" fill="#231f20">0</text>
<text x="609.3" y="1327.9" font-size="23.5" fill="#939598">0</text>
<path d="M133.2,800.3H172.2V803.2H207.5V805.4H230.9V808.3H235.7V812.5H240.0V816.7H247.0V821.8H256.9V823.8H266.8V830.9H278.1V833.7H282.9V839.3H293.6V842.2H304.9V844.4H326.1V846.4H333.2V852.9H355.8V855.7H385.5V861.9H396.8V864.8H401.0V870.4H409.5V876.1H415.1V881.7H420.8V885.9H432.1V888.8H442.0V894.4H456.1V897.2H464.6V900.1H485.7V901.5H492.8V905.7H501.3V915.6H525.3V921.3H542.2V929.7H549.3V937.6H624.2" fill="none" stroke="#46494e" stroke-width="2.4"/>
<path d="M262.6,819.6v8.4M259.1,823.8h7M319.1,840.2v8.4M315.6,844.4h7M371.3,851.5v8.4M367.8,855.7h7M381.2,851.5v8.4M377.7,855.7h7M399.6,860.6v8.4M396.1,864.8h7M402.4,866.2v8.4M398.9,870.4h7M405.2,866.2v8.4M401.7,870.4h7M406.6,866.2v8.4M403.1,870.4h7M416.5,877.5v8.4M413.0,881.7h7M419.4,877.5v8.4M415.9,881.7h7M422.2,881.7v8.4M418.7,885.9h7M423.6,881.7v8.4M420.1,885.9h7M426.4,881.7v8.4M422.9,885.9h7M432.1,884.6v8.4M428.6,888.8h7M444.8,890.2v8.4M441.3,894.4h7M449.0,890.2v8.4M445.5,894.4h7M454.7,890.2v8.4M451.2,894.4h7M471.6,895.9v8.4M468.1,900.1h7M474.4,895.9v8.4M470.9,900.1h7M477.3,895.9v8.4M473.8,900.1h7M490.0,897.3v8.4M486.5,901.5h7M494.2,901.5v8.4M490.7,905.7h7M508.3,911.4v8.4M504.8,915.6h7M516.8,911.4v8.4M513.3,915.6h7M522.5,911.4v8.4M519.0,915.6h7M525.3,917.1v8.4M521.8,921.3h7M526.7,917.1v8.4M523.2,921.3h7M540.8,917.1v8.4M537.3,921.3h7M553.6,933.4v8.4M550.1,937.6h7M556.4,933.4v8.4M552.9,937.6h7M559.2,933.4v8.4M555.7,937.6h7M562.0,933.4v8.4M558.5,937.6h7M564.9,933.4v8.4M561.4,937.6h7M567.7,933.4v8.4M564.2,937.6h7M576.2,933.4v8.4M572.7,937.6h7M579.0,933.4v8.4M575.5,937.6h7M581.8,933.4v8.4M578.3,937.6h7M587.5,933.4v8.4M584.0,937.6h7M604.4,933.4v8.4M600.9,937.6h7M610.1,933.4v8.4M606.6,937.6h7M615.7,933.4v8.4M612.2,937.6h7M618.5,933.4v8.4M615.0,937.6h7M621.4,933.4v8.4M617.9,937.6h7" fill="none" stroke="#262426" stroke-width="2.1"/>
<path d="M133.2,800.3H206.6V821.0H284.6V840.7H326.1V861.9H362.3V882.3H395.3V902.9H487.2V977.2H490.0V1053.5H574.7" fill="none" stroke="#a7a9ac" stroke-width="2.0"/>
<path d="M417.9,898.7v8.4M414.4,902.9h7M420.8,898.7v8.4M417.3,902.9h7M429.2,898.7v8.4M425.7,902.9h7M460.3,898.7v8.4M456.8,902.9h7M466.0,898.7v8.4M462.5,902.9h7M470.2,898.7v8.4M466.7,902.9h7M473.0,898.7v8.4M469.5,902.9h7M478.7,898.7v8.4M475.2,902.9h7M573.3,1049.3v8.4M569.8,1053.5h7" fill="none" stroke="#a7a9ac" stroke-width="1.8"/>
<text x="670.8" y="749.2" font-size="74" font-weight="bold" fill="#231f20">E</text>
<text x="880.0" y="730.8" font-size="33" font-weight="bold" fill="#231f20" textLength="128.5" lengthAdjust="spacingAndGlyphs">Day+100</text>
<text x="1020.0" y="730.8" font-size="33" font-weight="bold" fill="#231f20" textLength="162.4" lengthAdjust="spacingAndGlyphs">Post ASCT</text>
<line x1="773.3" y1="778.7" x2="773.3" y2="1144.9" stroke="#4a4a4c" stroke-width="2.2"/>
<line x1="772.3" y1="1143.9" x2="1322.4" y2="1143.9" stroke="#4a4a4c" stroke-width="2.2"/>
<text x="738.6" y="804.4" font-size="20.5" fill="#404040" textLength="29.1" lengthAdjust="spacingAndGlyphs" stroke="#404040" stroke-width="0.35">1.0</text>
<text x="738.6" y="870.2" font-size="20.5" fill="#404040" textLength="29.1" lengthAdjust="spacingAndGlyphs" stroke="#404040" stroke-width="0.35">0.8</text>
<text x="738.6" y="936.4" font-size="20.5" fill="#404040" textLength="29.1" lengthAdjust="spacingAndGlyphs" stroke="#404040" stroke-width="0.35">0.6</text>
<text x="738.6" y="1002.5" font-size="20.5" fill="#404040" textLength="29.1" lengthAdjust="spacingAndGlyphs" stroke="#404040" stroke-width="0.35">0.4</text>
<text x="738.6" y="1068.3" font-size="20.5" fill="#404040" textLength="29.1" lengthAdjust="spacingAndGlyphs" stroke="#404040" stroke-width="0.35">0.2</text>
<text x="738.6" y="1133.4" font-size="20.5" fill="#404040" textLength="29.1" lengthAdjust="spacingAndGlyphs" stroke="#404040" stroke-width="0.35">0.0</text>
<text x="785.6" y="1166.8" font-size="20.5" fill="#404040" textLength="29.1" lengthAdjust="spacingAndGlyphs" stroke="#404040" stroke-width="0.35">.00</text>
<text x="850.1" y="1166.8" font-size="20.5" fill="#404040" textLength="52.7" lengthAdjust="spacingAndGlyphs" stroke="#404040" stroke-width="0.35">10.00</text>
<text x="926.2" y="1166.8" font-size="20.5" fill="#404040" textLength="52.2" lengthAdjust="spacingAndGlyphs" stroke="#404040" stroke-width="0.35">20.00</text>
<text x="1002.1" y="1166.8" font-size="20.5" fill="#404040" textLength="51.9" lengthAdjust="spacingAndGlyphs" stroke="#404040" stroke-width="0.35">30.00</text>
<text x="1078.6" y="1166.8" font-size="20.5" fill="#404040" textLength="51.6" lengthAdjust="spacingAndGlyphs" stroke="#404040" stroke-width="0.35">40.00</text>
<text x="1154.4" y="1166.8" font-size="20.5" fill="#404040" textLength="51.9" lengthAdjust="spacingAndGlyphs" stroke="#404040" stroke-width="0.35">50.00</text>
<text x="1230.8" y="1166.8" font-size="20.5" fill="#404040" textLength="52.2" lengthAdjust="spacingAndGlyphs" stroke="#404040" stroke-width="0.35">60.00</text>
<text x="1010.4" y="1202.1" font-size="20.5" font-weight="bold" fill="#2a2728" textLength="73.4" lengthAdjust="spacingAndGlyphs">Months</text>
<text x="-0.8" y="0" font-size="22" font-weight="bold" fill="#2a2728" textLength="150.4" lengthAdjust="spacingAndGlyphs" transform="translate(719.4,1036.2) rotate(-90)">Cumulative PFS</text>
<text x="793.9" y="1013.9" font-size="24" fill="#231f20" textLength="410.3" lengthAdjust="spacingAndGlyphs">Median PFS NR v. NR months, p=0.53</text>
<path d="M781.4,1055.7H793.0V1046.0H805.0V1055.2" fill="none" stroke="#8a8c90" stroke-width="1.5"/>
<text x="807.2" y="1057.9" font-size="19" fill="#3a3a3a" textLength="250.2" lengthAdjust="spacingAndGlyphs" stroke="#3a3a3a" stroke-width="0.3">Normal sFLC ratio (n=126)</text>
<path d="M781.4,1078.5H793.0V1068.8H805.0V1078.0" fill="none" stroke="#cfd0d2" stroke-width="1.5"/>
<text x="808.9" y="1080.7" font-size="19" fill="#3a3a3a" textLength="526.8" lengthAdjust="spacingAndGlyphs" stroke="#3a3a3a" stroke-width="0.3">Abnormal sFLC ratio not due to suppressed uFLC (n=24)</text>
<path d="M781.4,1096.3H805.0M793.2,1087.5V1106.0" fill="none" stroke="#303030" stroke-width="2"/>
<text x="808.0" y="1104.0" font-size="19" fill="#3a3a3a" textLength="87.7" lengthAdjust="spacingAndGlyphs" stroke="#3a3a3a" stroke-width="0.3">censored</text>
<path d="M781.4,1119.8H805.0M793.2,1111.0V1129.5" fill="none" stroke="#b3b5b7" stroke-width="2"/>
<text x="808.0" y="1127.5" font-size="19" fill="#3a3a3a" textLength="87.7" lengthAdjust="spacingAndGlyphs" stroke="#3a3a3a" stroke-width="0.3">censored</text>
<text x="788.3" y="1280.4" font-size="23.5" font-weight="bold" fill="#231f20" textLength="165.1" lengthAdjust="spacingAndGlyphs">Number at risk</text>
<text x="788.1" y="1306.8" font-size="23.5" fill="#231f20">126</text>
<text x="788.7" y="1333.2" font-size="23.5" fill="#939598">24</text>
<text x="879.6" y="1306.8" font-size="23.5" fill="#231f20">126</text>
<text x="880.2" y="1333.2" font-size="23.5" fill="#939598">24</text>
<text x="968.9" y="1306.8" font-size="23.5" fill="#231f20">116</text>
<text x="969.5" y="1333.2" font-size="23.5" fill="#939598">21</text>
<text x="1048.5" y="1306.8" font-size="23.5" fill="#231f20">109</text>
<text x="1049.1" y="1333.2" font-size="23.5" fill="#939598">20</text>
<text x="1127.9" y="1306.8" font-size="23.5" fill="#231f20">72</text>
<text x="1127.3" y="1333.2" font-size="23.5" fill="#939598">13</text>
<text x="1204.2" y="1306.8" font-size="23.5" fill="#231f20">32</text>
<text x="1204.2" y="1333.2" font-size="23.5" fill="#939598">3</text>
<text x="1279.6" y="1306.8" font-size="23.5" fill="#231f20">1</text>
<text x="1280.5" y="1333.2" font-size="23.5" fill="#939598">0</text>
<path d="M801.2,796.0H896.1V800.8H907.3V803.5H913.9V805.3H916.6V806.7H925.9V808.0H936.1V809.9H939.3V813.3H943.3V822.1H961.9V824.0H976.6V827.4H1007.2V832.0H1016.5V835.4H1020.5V838.1H1036.5V840.8H1041.9V844.0H1052.5V846.6H1059.2V850.6H1061.9V854.6H1072.5V858.6H1077.8V862.6H1083.2V868.0H1091.2V873.3H1107.2V874.6H1112.5V878.6H1125.8V881.3H1133.8V884.5H1145.8V889.8H1161.8V891.9H1164.5V898.6H1168.5V902.1H1189.8V909.3H1261.7" fill="none" stroke="#46494e" stroke-width="2.4"/>
<path d="M1000.6,823.2v8.4M997.1,827.4h7M1037.9,836.6v8.4M1034.4,840.8h7M1040.5,836.6v8.4M1037.0,840.8h7M1043.2,839.8v8.4M1039.7,844.0h7M1045.9,839.8v8.4M1042.4,844.0h7M1049.9,839.8v8.4M1046.4,844.0h7M1065.9,850.4v8.4M1062.4,854.6h7M1068.5,850.4v8.4M1065.0,854.6h7M1071.2,850.4v8.4M1067.7,854.6h7M1073.8,854.4v8.4M1070.3,858.6h7M1075.2,854.4v8.4M1071.7,858.6h7M1079.2,858.4v8.4M1075.7,862.6h7M1081.8,858.4v8.4M1078.3,862.6h7M1085.8,863.8v8.4M1082.3,868.0h7M1091.2,869.1v8.4M1087.7,873.3h7M1095.2,869.1v8.4M1091.7,873.3h7M1100.5,869.1v8.4M1097.0,873.3h7M1108.5,870.4v8.4M1105.0,874.6h7M1112.5,874.4v8.4M1109.0,878.6h7M1115.2,874.4v8.4M1111.7,878.6h7M1117.8,874.4v8.4M1114.3,878.6h7M1120.5,874.4v8.4M1117.0,878.6h7M1123.2,874.4v8.4M1119.7,878.6h7M1124.5,874.4v8.4M1121.0,878.6h7M1133.8,880.3v8.4M1130.3,884.5h7M1137.8,880.3v8.4M1134.3,884.5h7M1153.8,885.6v8.4M1150.3,889.8h7M1156.5,885.6v8.4M1153.0,889.8h7M1167.1,894.4v8.4M1163.6,898.6h7M1175.1,897.9v8.4M1171.6,902.1h7M1180.5,897.9v8.4M1177.0,902.1h7M1192.5,905.1v8.4M1189.0,909.3h7M1196.4,905.1v8.4M1192.9,909.3h7M1200.4,905.1v8.4M1196.9,909.3h7M1203.1,905.1v8.4M1199.6,909.3h7M1205.8,905.1v8.4M1202.3,909.3h7M1209.8,905.1v8.4M1206.3,909.3h7M1213.8,905.1v8.4M1210.3,909.3h7M1216.4,905.1v8.4M1212.9,909.3h7M1219.1,905.1v8.4M1215.6,909.3h7M1221.8,905.1v8.4M1218.3,909.3h7M1224.4,905.1v8.4M1220.9,909.3h7M1239.1,905.1v8.4M1235.6,909.3h7M1245.8,905.1v8.4M1242.3,909.3h7M1248.4,905.1v8.4M1244.9,909.3h7M1251.1,905.1v8.4M1247.6,909.3h7M1253.8,905.1v8.4M1250.3,909.3h7M1256.4,905.1v8.4M1252.9,909.3h7M1259.1,905.1v8.4M1255.6,909.3h7" fill="none" stroke="#262426" stroke-width="2.1"/>
<path d="M801.2,796.0H912.6V809.3H933.9V824.0H935.3V837.3H987.8V850.6H1044.5V865.3H1049.9V878.6H1101.8V894.6H1189.0V971.4H1215.9" fill="none" stroke="#a7a9ac" stroke-width="2.0"/>
<path d="M1073.8,874.4v8.4M1070.3,878.6h7M1077.8,874.4v8.4M1074.3,878.6h7M1089.8,874.4v8.4M1086.3,878.6h7M1104.5,890.4v8.4M1101.0,894.6h7M1117.8,890.4v8.4M1114.3,894.6h7M1120.5,890.4v8.4M1117.0,894.6h7M1126.4,890.4v8.4M1122.9,894.6h7M1152.5,890.4v8.4M1149.0,894.6h7M1157.8,890.4v8.4M1154.3,894.6h7M1160.5,890.4v8.4M1157.0,894.6h7M1197.8,967.2v8.4M1194.3,971.4h7M1213.8,967.2v8.4M1210.3,971.4h7" fill="none" stroke="#a7a9ac" stroke-width="1.8"/>
<text x="1303.8" y="753.4" font-size="74" font-weight="bold" fill="#231f20">F</text>
<text x="1558.3" y="728.7" font-size="33" font-weight="bold" fill="#231f20" textLength="192.0" lengthAdjust="spacingAndGlyphs">Maintenance</text>
<line x1="1421.7" y1="752.0" x2="1421.7" y2="1147.2" stroke="#4a4a4c" stroke-width="2.2"/>
<line x1="1420.7" y1="1146.2" x2="1967.6" y2="1146.2" stroke="#4a4a4c" stroke-width="2.2"/>
<text x="1386.9" y="780.4" font-size="20.5" fill="#404040" textLength="29.1" lengthAdjust="spacingAndGlyphs" stroke="#404040" stroke-width="0.35">1.0</text>
<text x="1386.9" y="850.6" font-size="20.5" fill="#404040" textLength="29.1" lengthAdjust="spacingAndGlyphs" stroke="#404040" stroke-width="0.35">0.8</text>
<text x="1386.9" y="921.5" font-size="20.5" fill="#404040" textLength="29.1" lengthAdjust="spacingAndGlyphs" stroke="#404040" stroke-width="0.35">0.6</text>
<text x="1386.9" y="992.4" font-size="20.5" fill="#404040" textLength="29.1" lengthAdjust="spacingAndGlyphs" stroke="#404040" stroke-width="0.35">0.4</text>
<text x="1386.9" y="1064.7" font-size="20.5" fill="#404040" textLength="29.1" lengthAdjust="spacingAndGlyphs" stroke="#404040" stroke-width="0.35">0.2</text>
<text x="1386.9" y="1135.6" font-size="20.5" fill="#404040" textLength="29.1" lengthAdjust="spacingAndGlyphs" stroke="#404040" stroke-width="0.35">0.0</text>
<text x="1433.1" y="1169.3" font-size="20.5" fill="#404040" textLength="29.1" lengthAdjust="spacingAndGlyphs" stroke="#404040" stroke-width="0.35">.00</text>
<text x="1503.9" y="1169.3" font-size="20.5" fill="#404040" textLength="52.7" lengthAdjust="spacingAndGlyphs" stroke="#404040" stroke-width="0.35">10.00</text>
<text x="1586.5" y="1169.3" font-size="20.5" fill="#404040" textLength="52.2" lengthAdjust="spacingAndGlyphs" stroke="#404040" stroke-width="0.35">20.00</text>
<text x="1667.8" y="1169.3" font-size="20.5" fill="#404040" textLength="51.9" lengthAdjust="spacingAndGlyphs" stroke="#404040" stroke-width="0.35">30.00</text>
<text x="1750.9" y="1169.3" font-size="20.5" fill="#404040" textLength="51.6" lengthAdjust="spacingAndGlyphs" stroke="#404040" stroke-width="0.35">40.00</text>
<text x="1832.6" y="1169.3" font-size="20.5" fill="#404040" textLength="51.9" lengthAdjust="spacingAndGlyphs" stroke="#404040" stroke-width="0.35">50.00</text>
<text x="1914.8" y="1169.3" font-size="20.5" fill="#404040" textLength="52.2" lengthAdjust="spacingAndGlyphs" stroke="#404040" stroke-width="0.35">60.00</text>
<text x="1665.6" y="1200.8" font-size="15" font-weight="bold" fill="#2a2728" textLength="56.5" lengthAdjust="spacingAndGlyphs">Months</text>
<text x="-0.8" y="0" font-size="18.5" stroke="#404040" stroke-width="0.35" fill="#404040" textLength="113.2" lengthAdjust="spacingAndGlyphs" transform="translate(1369.9,1004.1) rotate(-90)">Cumulative PFS</text>
<text x="1434.2" y="1004.9" font-size="24" fill="#231f20" textLength="326.6" lengthAdjust="spacingAndGlyphs">Median PFS NR v. NR, p=0.13</text>
<path d="M1429.8,1039.9H1441.5V1030.2H1453.6V1039.4" fill="none" stroke="#cfd0d2" stroke-width="1.5"/>
<text x="1454.7" y="1042.1" font-size="19" fill="#3a3a3a" textLength="224.9" lengthAdjust="spacingAndGlyphs" stroke="#3a3a3a" stroke-width="0.3">Normal FLC ratio (n=46)</text>
<path d="M1429.8,1072.9H1441.5V1063.2H1453.6V1072.4" fill="none" stroke="#8a8c90" stroke-width="1.5"/>
<text x="1456.4" y="1066.2" font-size="19" fill="#3a3a3a" textLength="416.8" lengthAdjust="spacingAndGlyphs" stroke="#3a3a3a" stroke-width="0.3">Abnormal FLC ratio not due to suppression of</text>
<text x="1455.1" y="1085.7" font-size="19" fill="#3a3a3a" textLength="210.3" lengthAdjust="spacingAndGlyphs" stroke="#3a3a3a" stroke-width="0.3">uninvolved FLC (n=12)</text>
<path d="M1429.8,1101.8H1453.6M1441.7,1093.0V1111.5" fill="none" stroke="#b3b5b7" stroke-width="2"/>
<text x="1455.5" y="1109.5" font-size="19" fill="#3a3a3a" textLength="87.7" lengthAdjust="spacingAndGlyphs" stroke="#3a3a3a" stroke-width="0.3">censored</text>
<path d="M1429.8,1124.8H1453.6M1441.7,1116.0V1134.5" fill="none" stroke="#303030" stroke-width="2"/>
<text x="1455.5" y="1132.5" font-size="19" fill="#3a3a3a" textLength="87.7" lengthAdjust="spacingAndGlyphs" stroke="#3a3a3a" stroke-width="0.3">censored</text>
<text x="1455.2" y="1275.9" font-size="23.5" font-weight="bold" fill="#231f20" textLength="172.4" lengthAdjust="spacingAndGlyphs">Number at risk</text>
<text x="1455.2" y="1301.8" font-size="23.5" fill="#231f20">46</text>
<text x="1453.9" y="1328.1" font-size="23.5" fill="#939598">12</text>
<text x="1552.7" y="1301.8" font-size="23.5" fill="#231f20">46</text>
<text x="1551.4" y="1328.1" font-size="23.5" fill="#939598">12</text>
<text x="1628.2" y="1301.8" font-size="23.5" fill="#231f20">45</text>
<text x="1626.9" y="1328.1" font-size="23.5" fill="#939598">12</text>
<text x="1700.5" y="1301.8" font-size="23.5" fill="#231f20">40</text>
<text x="1699.2" y="1328.1" font-size="23.5" fill="#939598">12</text>
<text x="1772.1" y="1301.8" font-size="23.5" fill="#231f20">33</text>
<text x="1771.2" y="1328.1" font-size="23.5" fill="#939598">10</text>
<text x="1843.9" y="1301.8" font-size="23.5" fill="#231f20">13</text>
<text x="1844.8" y="1328.1" font-size="23.5" fill="#939598">3</text>
<text x="1916.4" y="1301.8" font-size="23.5" fill="#231f20">0</text>
<text x="1916.4" y="1328.1" font-size="23.5" fill="#939598">0</text>
<path d="M1448.9,770.8H1595.2V778.6H1616.0V786.0H1622.9V793.8H1638.2V801.6H1651.5V809.3H1683.4V817.1H1701.9V824.9H1709.4V832.6H1789.3V842.3H1807.8V855.3H1822.0V868.1H1834.2V882.0H1866.9V901.9H1869.1V922.4H1941.2" fill="none" stroke="#a7a9ac" stroke-width="2.0"/>
<path d="M1717.2,828.4v8.4M1713.7,832.6h7M1743.0,828.4v8.4M1739.5,832.6h7M1756.0,828.4v8.4M1752.5,832.6h7M1768.5,828.4v8.4M1765.0,832.6h7M1780.4,828.4v8.4M1776.9,832.6h7M1783.2,828.4v8.4M1779.7,832.6h7M1786.5,828.4v8.4M1783.0,832.6h7M1790.6,838.1v8.4M1787.1,842.3h7M1793.4,838.1v8.4M1789.9,842.3h7M1795.4,838.1v8.4M1791.9,842.3h7M1799.0,838.1v8.4M1795.5,842.3h7M1833.6,863.9v8.4M1830.1,868.1h7M1837.8,877.8v8.4M1834.3,882.0h7M1841.4,877.8v8.4M1837.9,882.0h7M1858.6,877.8v8.4M1855.1,882.0h7M1872.4,918.2v8.4M1868.9,922.4h7M1880.7,918.2v8.4M1877.2,922.4h7M1882.1,918.2v8.4M1878.6,922.4h7M1886.3,918.2v8.4M1882.8,922.4h7M1901.5,918.2v8.4M1898.0,922.4h7M1904.3,918.2v8.4M1900.8,922.4h7M1921.7,918.2v8.4M1918.2,922.4h7M1938.4,918.2v8.4M1934.9,922.4h7" fill="none" stroke="#a7a9ac" stroke-width="1.8"/>
<path d="M1448.9,770.8H1774.0V803.0H1941.2" fill="none" stroke="#46494e" stroke-width="2.4"/>
<path d="M1767.1,766.6v8.4M1763.6,770.8h7M1793.4,798.8v8.4M1789.9,803.0h7M1794.2,798.8v8.4M1790.7,803.0h7M1812.3,798.8v8.4M1808.8,803.0h7M1834.2,798.8v8.4M1830.7,803.0h7M1841.1,798.8v8.4M1837.6,803.0h7M1845.2,798.8v8.4M1841.7,803.0h7M1876.6,798.8v8.4M1873.1,803.0h7M1885.4,798.8v8.4M1881.9,803.0h7M1938.4,798.8v8.4M1934.9,803.0h7" fill="none" stroke="#262426" stroke-width="2.1"/>
<text x="-1.0" y="1428.0" font-size="74" font-weight="bold" fill="#231f20">G</text>
<text x="215.9" y="1435.6" font-size="33" font-weight="bold" fill="#231f20" textLength="222.5" lengthAdjust="spacingAndGlyphs">Post Induction</text>
<line x1="101.1" y1="1535.0" x2="101.1" y2="1900.0" stroke="#4a4a4c" stroke-width="2.2"/>
<line x1="100.1" y1="1899.0" x2="639.5" y2="1899.0" stroke="#4a4a4c" stroke-width="2.2"/>
<text x="66.6" y="1562.2" font-size="20.5" fill="#404040" textLength="28.9" lengthAdjust="spacingAndGlyphs" stroke="#404040" stroke-width="0.35">1.0</text>
<text x="66.6" y="1627.8" font-size="20.5" fill="#404040" textLength="28.9" lengthAdjust="spacingAndGlyphs" stroke="#404040" stroke-width="0.35">0.8</text>
<text x="66.6" y="1692.9" font-size="20.5" fill="#404040" textLength="28.9" lengthAdjust="spacingAndGlyphs" stroke="#404040" stroke-width="0.35">0.6</text>
<text x="66.6" y="1758.8" font-size="20.5" fill="#404040" textLength="28.9" lengthAdjust="spacingAndGlyphs" stroke="#404040" stroke-width="0.35">0.4</text>
<text x="66.6" y="1824.0" font-size="20.5" fill="#404040" textLength="28.9" lengthAdjust="spacingAndGlyphs" stroke="#404040" stroke-width="0.35">0.2</text>
<text x="66.6" y="1889.2" font-size="20.5" fill="#404040" textLength="28.9" lengthAdjust="spacingAndGlyphs" stroke="#404040" stroke-width="0.35">0.0</text>
<text x="112.5" y="1923.4" font-size="20.5" fill="#404040" textLength="29.1" lengthAdjust="spacingAndGlyphs" stroke="#404040" stroke-width="0.35">.00</text>
<text x="181.6" y="1923.4" font-size="20.5" fill="#404040" textLength="52.7" lengthAdjust="spacingAndGlyphs" stroke="#404040" stroke-width="0.35">10.00</text>
<text x="263.3" y="1923.4" font-size="20.5" fill="#404040" textLength="52.2" lengthAdjust="spacingAndGlyphs" stroke="#404040" stroke-width="0.35">20.00</text>
<text x="343.2" y="1923.4" font-size="20.5" fill="#404040" textLength="51.9" lengthAdjust="spacingAndGlyphs" stroke="#404040" stroke-width="0.35">30.00</text>
<text x="424.5" y="1923.4" font-size="20.5" fill="#404040" textLength="51.6" lengthAdjust="spacingAndGlyphs" stroke="#404040" stroke-width="0.35">40.00</text>
<text x="505.2" y="1923.4" font-size="20.5" fill="#404040" textLength="51.9" lengthAdjust="spacingAndGlyphs" stroke="#404040" stroke-width="0.35">50.00</text>
<text x="586.9" y="1923.4" font-size="20.5" fill="#404040" textLength="52.2" lengthAdjust="spacingAndGlyphs" stroke="#404040" stroke-width="0.35">60.00</text>
<text x="332.6" y="1958.6" font-size="20.5" font-weight="bold" fill="#2a2728" textLength="73.4" lengthAdjust="spacingAndGlyphs">Months</text>
<text x="-0.8" y="0" font-size="22" font-weight="bold" fill="#2a2728" textLength="155.9" lengthAdjust="spacingAndGlyphs" transform="translate(47.2,1795.4) rotate(-90)">Cumulative PFS</text>
<text x="109.4" y="1769.6" font-size="24" fill="#231f20" textLength="421.6" lengthAdjust="spacingAndGlyphs">Median PFS NR v. 43.5 months, p&lt;0.01</text>
<path d="M112.0,1806.4H123.6V1796.7H135.7V1805.9" fill="none" stroke="#8a8c90" stroke-width="1.5"/>
<text x="137.2" y="1808.6" font-size="19" fill="#3a3a3a" textLength="224.9" lengthAdjust="spacingAndGlyphs" stroke="#3a3a3a" stroke-width="0.3">FLC-MS negative (n=88)</text>
<path d="M112.0,1830.7H123.6V1821.0H135.7V1830.2" fill="none" stroke="#cfd0d2" stroke-width="1.5"/>
<text x="137.2" y="1832.9" font-size="19" fill="#3a3a3a" textLength="217.8" lengthAdjust="spacingAndGlyphs" stroke="#3a3a3a" stroke-width="0.3">FLC-MS positive (n=47)</text>
<path d="M112.0,1849.2H135.7M123.8,1840.4V1858.9" fill="none" stroke="#303030" stroke-width="2"/>
<text x="138.0" y="1856.9" font-size="19" fill="#3a3a3a" textLength="85.6" lengthAdjust="spacingAndGlyphs" stroke="#3a3a3a" stroke-width="0.3">censored</text>
<path d="M112.0,1873.2H135.7M123.8,1864.4V1882.9" fill="none" stroke="#b3b5b7" stroke-width="2"/>
<text x="138.0" y="1880.9" font-size="19" fill="#3a3a3a" textLength="85.6" lengthAdjust="spacingAndGlyphs" stroke="#3a3a3a" stroke-width="0.3">censored</text>
<text x="115.1" y="2003.0" font-size="23.5" font-weight="bold" fill="#231f20" textLength="166.4" lengthAdjust="spacingAndGlyphs">Number at risk</text>
<text x="115.7" y="2028.7" font-size="23.5" fill="#231f20">88</text>
<text x="116.2" y="2054.1" font-size="23.5" fill="#939598">47</text>
<text x="203.1" y="2028.7" font-size="23.5" fill="#231f20">86</text>
<text x="203.6" y="2054.1" font-size="23.5" fill="#939598">46</text>
<text x="291.7" y="2028.7" font-size="23.5" fill="#231f20">78</text>
<text x="292.0" y="2054.1" font-size="23.5" fill="#939598">39</text>
<text x="379.0" y="2028.7" font-size="23.5" fill="#231f20">74</text>
<text x="379.3" y="2054.1" font-size="23.5" fill="#939598">34</text>
<text x="455.5" y="2028.7" font-size="23.5" fill="#231f20">49</text>
<text x="454.8" y="2054.1" font-size="23.5" fill="#939598">20</text>
<text x="531.2" y="2028.7" font-size="23.5" fill="#231f20">20</text>
<text x="531.3" y="2054.1" font-size="23.5" fill="#939598">9</text>
<text x="609.1" y="2028.7" font-size="23.5" fill="#231f20">0</text>
<text x="609.1" y="2054.1" font-size="23.5" fill="#939598">0</text>
<path d="M127.7,1552.8H166.0V1557.2H200.6V1560.0H224.2V1562.2H228.3V1566.3H233.9V1570.5H240.8V1574.6H278.2V1577.4H283.8V1583.0H289.3V1587.1H300.4V1590.7H326.7V1594.3H390.5V1598.2H394.7V1602.4H404.4V1606.0H411.3V1610.7H433.5V1614.8H455.6V1620.4H491.7V1628.7H494.4V1637.6H516.6V1646.7H534.6V1659.7H612.2" fill="none" stroke="#46494e" stroke-width="2.4"/>
<path d="M256.1,1570.4v8.4M252.6,1574.6h7M312.9,1586.5v8.4M309.4,1590.7h7M364.2,1590.1v8.4M360.7,1594.3h7M373.3,1590.1v8.4M369.8,1594.3h7M394.7,1598.2v8.4M391.2,1602.4h7M409.9,1601.8v8.4M406.4,1606.0h7M412.7,1606.5v8.4M409.2,1610.7h7M415.4,1606.5v8.4M411.9,1610.7h7M418.2,1606.5v8.4M414.7,1610.7h7M422.4,1606.5v8.4M418.9,1610.7h7M437.6,1610.6v8.4M434.1,1614.8h7M441.8,1610.6v8.4M438.3,1614.8h7M446.5,1610.6v8.4M443.0,1614.8h7M462.6,1616.2v8.4M459.1,1620.4h7M464.0,1616.2v8.4M460.5,1620.4h7M465.3,1616.2v8.4M461.8,1620.4h7M466.7,1616.2v8.4M463.2,1620.4h7M469.5,1616.2v8.4M466.0,1620.4h7M481.4,1616.2v8.4M477.9,1620.4h7M500.0,1633.4v8.4M496.5,1637.6h7M506.9,1633.4v8.4M503.4,1637.6h7M512.5,1633.4v8.4M509.0,1637.6h7M514.7,1633.4v8.4M511.2,1637.6h7M519.4,1642.5v8.4M515.9,1646.7h7M533.3,1642.5v8.4M529.8,1646.7h7M545.2,1655.5v8.4M541.7,1659.7h7M548.5,1655.5v8.4M545.0,1659.7h7M551.8,1655.5v8.4M548.3,1659.7h7M555.4,1655.5v8.4M551.9,1659.7h7M558.2,1655.5v8.4M554.7,1659.7h7M565.1,1655.5v8.4M561.6,1659.7h7M567.9,1655.5v8.4M564.4,1659.7h7M570.7,1655.5v8.4M567.2,1659.7h7M577.6,1655.5v8.4M574.1,1659.7h7M594.2,1655.5v8.4M590.7,1659.7h7M609.5,1655.5v8.4M606.0,1659.7h7M611.7,1655.5v8.4M608.2,1659.7h7" fill="none" stroke="#262426" stroke-width="2.1"/>
<path d="M127.7,1552.8H200.6V1560.0H228.3V1567.7H233.9V1573.3H256.1V1580.2H261.6V1595.4H271.3V1602.4H278.2V1608.7H319.8V1622.6H326.7V1629.3H348.9V1636.5H354.5V1643.9H376.6V1657.8H387.7V1670.3H397.4V1678.6H401.6V1686.9H407.1V1693.8H423.8V1702.2H434.9V1711.3H479.2V1722.4H482.0V1742.9H540.2V1758.4H613.6" fill="none" stroke="#a7a9ac" stroke-width="2.0"/>
<path d="M393.3,1666.1v8.4M389.8,1670.3h7M398.8,1674.4v8.4M395.3,1678.6h7M401.6,1682.7v8.4M398.1,1686.9h7M409.9,1689.6v8.4M406.4,1693.8h7M412.7,1689.6v8.4M409.2,1693.8h7M414.9,1689.6v8.4M411.4,1693.8h7M452.9,1707.1v8.4M449.4,1711.3h7M457.0,1707.1v8.4M453.5,1711.3h7M469.5,1707.1v8.4M466.0,1711.3h7M486.1,1738.7v8.4M482.6,1742.9h7M516.6,1738.7v8.4M513.1,1742.9h7M549.9,1754.2v8.4M546.4,1758.4h7M560.1,1754.2v8.4M556.6,1758.4h7M573.4,1754.2v8.4M569.9,1758.4h7M601.2,1754.2v8.4M597.7,1758.4h7M605.3,1754.2v8.4M601.8,1758.4h7M608.1,1754.2v8.4M604.6,1758.4h7" fill="none" stroke="#a7a9ac" stroke-width="1.8"/>
<text x="696.0" y="1431.5" font-size="74" font-weight="bold" fill="#231f20">H</text>
<text x="866.9" y="1421.3" font-size="33" font-weight="bold" fill="#231f20" textLength="128.0" lengthAdjust="spacingAndGlyphs">Day+100</text>
<text x="1007.1" y="1421.3" font-size="33" font-weight="bold" fill="#231f20" textLength="162.0" lengthAdjust="spacingAndGlyphs">Post ASCT</text>
<line x1="771.0" y1="1533.3" x2="771.0" y2="1901.8" stroke="#4a4a4c" stroke-width="2.2"/>
<line x1="770.0" y1="1900.8" x2="1310.0" y2="1900.8" stroke="#4a4a4c" stroke-width="2.2"/>
<text x="736.4" y="1559.8" font-size="20.5" fill="#404040" textLength="29.0" lengthAdjust="spacingAndGlyphs" stroke="#404040" stroke-width="0.35">1.0</text>
<text x="736.4" y="1626.0" font-size="20.5" fill="#404040" textLength="29.0" lengthAdjust="spacingAndGlyphs" stroke="#404040" stroke-width="0.35">0.8</text>
<text x="736.4" y="1691.9" font-size="20.5" fill="#404040" textLength="29.0" lengthAdjust="spacingAndGlyphs" stroke="#404040" stroke-width="0.35">0.6</text>
<text x="736.4" y="1758.8" font-size="20.5" fill="#404040" textLength="29.0" lengthAdjust="spacingAndGlyphs" stroke="#404040" stroke-width="0.35">0.4</text>
<text x="736.4" y="1824.7" font-size="20.5" fill="#404040" textLength="29.0" lengthAdjust="spacingAndGlyphs" stroke="#404040" stroke-width="0.35">0.2</text>
<text x="736.4" y="1891.0" font-size="20.5" fill="#404040" textLength="29.0" lengthAdjust="spacingAndGlyphs" stroke="#404040" stroke-width="0.35">0.0</text>
<text x="782.9" y="1924.5" font-size="20.5" fill="#404040" textLength="29.1" lengthAdjust="spacingAndGlyphs" stroke="#404040" stroke-width="0.35">.00</text>
<text x="846.6" y="1924.5" font-size="20.5" fill="#404040" textLength="52.7" lengthAdjust="spacingAndGlyphs" stroke="#404040" stroke-width="0.35">10.00</text>
<text x="921.5" y="1924.5" font-size="20.5" fill="#404040" textLength="52.2" lengthAdjust="spacingAndGlyphs" stroke="#404040" stroke-width="0.35">20.00</text>
<text x="996.1" y="1924.5" font-size="20.5" fill="#404040" textLength="51.9" lengthAdjust="spacingAndGlyphs" stroke="#404040" stroke-width="0.35">30.00</text>
<text x="1070.4" y="1924.5" font-size="20.5" fill="#404040" textLength="51.6" lengthAdjust="spacingAndGlyphs" stroke="#404040" stroke-width="0.35">40.00</text>
<text x="1145.3" y="1924.5" font-size="20.5" fill="#404040" textLength="51.9" lengthAdjust="spacingAndGlyphs" stroke="#404040" stroke-width="0.35">50.00</text>
<text x="1219.8" y="1924.5" font-size="20.5" fill="#404040" textLength="52.2" lengthAdjust="spacingAndGlyphs" stroke="#404040" stroke-width="0.35">60.00</text>
<text x="1002.5" y="1959.7" font-size="20.5" font-weight="bold" fill="#2a2728" textLength="73.4" lengthAdjust="spacingAndGlyphs">Months</text>
<text x="-0.8" y="0" font-size="22" font-weight="bold" fill="#2a2728" textLength="150.6" lengthAdjust="spacingAndGlyphs" transform="translate(717.0,1791.9) rotate(-90)">Cumulative PFS</text>
<text x="774.0" y="1779.4" font-size="24" fill="#231f20" textLength="421.6" lengthAdjust="spacingAndGlyphs">Median PFS NR v. 47.1 months, p=0.01</text>
<path d="M778.0,1817.7H790.1V1808.0H802.7V1817.2" fill="none" stroke="#8a8c90" stroke-width="1.5"/>
<text x="804.2" y="1819.9" font-size="19" fill="#3a3a3a" textLength="239.0" lengthAdjust="spacingAndGlyphs" stroke="#3a3a3a" stroke-width="0.3">FLC-MS negative (n=109)</text>
<path d="M778.0,1840.6H790.1V1830.9H802.7V1840.1" fill="none" stroke="#cfd0d2" stroke-width="1.5"/>
<text x="804.2" y="1842.8" font-size="19" fill="#3a3a3a" textLength="220.3" lengthAdjust="spacingAndGlyphs" stroke="#3a3a3a" stroke-width="0.3">FLC-MS positive (n=41)</text>
<path d="M778.0,1858.8H802.7M790.4,1850.0V1868.5" fill="none" stroke="#303030" stroke-width="2"/>
<text x="805.0" y="1866.5" font-size="19" fill="#3a3a3a" textLength="86.8" lengthAdjust="spacingAndGlyphs" stroke="#3a3a3a" stroke-width="0.3">censored</text>
<path d="M778.0,1882.0H802.7M790.4,1873.2V1891.7" fill="none" stroke="#b3b5b7" stroke-width="2"/>
<text x="805.0" y="1889.7" font-size="19" fill="#3a3a3a" textLength="86.8" lengthAdjust="spacingAndGlyphs" stroke="#3a3a3a" stroke-width="0.3">censored</text>
<text x="799.8" y="2004.0" font-size="23.5" font-weight="bold" fill="#231f20" textLength="164.5" lengthAdjust="spacingAndGlyphs">Number at risk</text>
<text x="799.6" y="2028.7" font-size="23.5" fill="#231f20">109</text>
<text x="800.9" y="2055.1" font-size="23.5" fill="#939598">41</text>
<text x="886.9" y="2028.7" font-size="23.5" fill="#231f20">109</text>
<text x="888.2" y="2055.1" font-size="23.5" fill="#939598">41</text>
<text x="974.0" y="2028.7" font-size="23.5" fill="#231f20">107</text>
<text x="974.9" y="2055.1" font-size="23.5" fill="#939598">30</text>
<text x="1056.8" y="2028.7" font-size="23.5" fill="#231f20">100</text>
<text x="1057.4" y="2055.1" font-size="23.5" fill="#939598">29</text>
<text x="1140.2" y="2028.7" font-size="23.5" fill="#231f20">67</text>
<text x="1139.6" y="2055.1" font-size="23.5" fill="#939598">17</text>
<text x="1212.4" y="2028.7" font-size="23.5" fill="#231f20">27</text>
<text x="1212.4" y="2055.1" font-size="23.5" fill="#939598">7</text>
<text x="1295.5" y="2028.7" font-size="23.5" fill="#231f20">0</text>
<text x="1294.6" y="2055.1" font-size="23.5" fill="#939598">1</text>
<path d="M798.1,1551.2H929.3V1553.9H937.2V1557.3H957.2V1560.0H970.6V1563.5H982.6V1566.1H1001.2V1572.5H1011.9V1575.2H1042.5V1578.6H1046.5V1582.1H1051.9V1586.6H1057.2V1590.1H1066.5V1593.3H1073.2V1597.3H1081.2V1602.6H1086.5V1606.6H1095.8V1609.8H1106.5V1612.5H1118.5V1614.6H1125.1V1620.0H1135.8V1626.6H1145.1V1630.6H1151.8V1634.6H1158.5V1641.3H1178.5V1649.3H1180.3V1660.5H1246.4" fill="none" stroke="#46494e" stroke-width="2.4"/>
<path d="M994.6,1561.9v8.4M991.1,1566.1h7M1030.5,1571.0v8.4M1027.0,1575.2h7M1035.9,1571.0v8.4M1032.4,1575.2h7M1058.5,1585.9v8.4M1055.0,1590.1h7M1061.2,1585.9v8.4M1057.7,1590.1h7M1063.8,1585.9v8.4M1060.3,1590.1h7M1066.5,1589.1v8.4M1063.0,1593.3h7M1067.8,1589.1v8.4M1064.3,1593.3h7M1073.2,1593.1v8.4M1069.7,1597.3h7M1077.2,1593.1v8.4M1073.7,1597.3h7M1081.2,1598.4v8.4M1077.7,1602.6h7M1082.5,1598.4v8.4M1079.0,1602.6h7M1086.5,1602.4v8.4M1083.0,1606.6h7M1093.2,1602.4v8.4M1089.7,1606.6h7M1095.8,1605.6v8.4M1092.3,1609.8h7M1102.5,1605.6v8.4M1099.0,1609.8h7M1107.8,1608.3v8.4M1104.3,1612.5h7M1110.5,1608.3v8.4M1107.0,1612.5h7M1113.2,1608.3v8.4M1109.7,1612.5h7M1115.8,1608.3v8.4M1112.3,1612.5h7M1117.2,1608.3v8.4M1113.7,1612.5h7M1129.1,1615.8v8.4M1125.6,1620.0h7M1142.5,1622.4v8.4M1139.0,1626.6h7M1147.8,1626.4v8.4M1144.3,1630.6h7M1149.1,1626.4v8.4M1145.6,1630.6h7M1155.8,1630.4v8.4M1152.3,1634.6h7M1159.8,1637.1v8.4M1156.3,1641.3h7M1165.1,1637.1v8.4M1161.6,1641.3h7M1170.5,1637.1v8.4M1167.0,1641.3h7M1185.1,1656.3v8.4M1181.6,1660.5h7M1189.1,1656.3v8.4M1185.6,1660.5h7M1193.1,1656.3v8.4M1189.6,1660.5h7M1195.8,1656.3v8.4M1192.3,1660.5h7M1203.8,1656.3v8.4M1200.3,1660.5h7M1205.1,1656.3v8.4M1201.6,1660.5h7M1211.8,1656.3v8.4M1208.3,1660.5h7M1229.1,1656.3v8.4M1225.6,1660.5h7M1234.4,1656.3v8.4M1230.9,1660.5h7M1241.1,1656.3v8.4M1237.6,1660.5h7M1243.8,1656.3v8.4M1240.3,1660.5h7M1245.1,1656.3v8.4M1241.6,1660.5h7" fill="none" stroke="#262426" stroke-width="2.1"/>
<path d="M798.1,1551.2H891.4V1566.7H903.1V1574.6H907.4V1582.6H910.6V1592.0H919.9V1600.0H927.9V1608.0H931.9V1617.3H935.9V1625.3H938.6V1639.9H1007.9V1647.9H1029.2V1655.9H1034.5V1665.3H1038.5V1681.3H1071.8V1691.9H1101.2V1703.9H1250.4" fill="none" stroke="#a7a9ac" stroke-width="2.0"/>
<path d="M1034.5,1651.7v8.4M1031.0,1655.9h7M1042.5,1677.1v8.4M1039.0,1681.3h7M1058.5,1677.1v8.4M1055.0,1681.3h7M1066.5,1677.1v8.4M1063.0,1681.3h7M1070.5,1677.1v8.4M1067.0,1681.3h7M1093.2,1687.7v8.4M1089.7,1691.9h7M1097.2,1687.7v8.4M1093.7,1691.9h7M1102.5,1699.7v8.4M1099.0,1703.9h7M1111.8,1699.7v8.4M1108.3,1703.9h7M1125.1,1699.7v8.4M1121.6,1703.9h7M1153.1,1699.7v8.4M1149.6,1703.9h7M1155.8,1699.7v8.4M1152.3,1703.9h7M1166.5,1699.7v8.4M1163.0,1703.9h7M1198.4,1699.7v8.4M1194.9,1703.9h7M1201.1,1699.7v8.4M1197.6,1703.9h7M1209.1,1699.7v8.4M1205.6,1703.9h7M1210.4,1699.7v8.4M1206.9,1703.9h7M1229.1,1699.7v8.4M1225.6,1703.9h7M1243.8,1699.7v8.4M1240.3,1703.9h7M1248.6,1699.7v8.4M1245.1,1703.9h7" fill="none" stroke="#a7a9ac" stroke-width="1.8"/>
<text x="1343.6" y="1424.0" font-size="74" font-weight="bold" fill="#231f20">I</text>
<text x="1554.7" y="1419.8" font-size="33" font-weight="bold" fill="#231f20" textLength="193.8" lengthAdjust="spacingAndGlyphs">Maintenance</text>
<line x1="1434.8" y1="1514.0" x2="1434.8" y2="1908.1" stroke="#4a4a4c" stroke-width="2.2"/>
<line x1="1433.8" y1="1907.1" x2="1971.1" y2="1907.1" stroke="#a0a0a0" stroke-width="1.8"/>
<text x="1400.0" y="1541.3" font-size="20.5" fill="#404040" textLength="29.2" lengthAdjust="spacingAndGlyphs" stroke="#404040" stroke-width="0.35">1.0</text>
<text x="1400.0" y="1612.2" font-size="20.5" fill="#404040" textLength="29.2" lengthAdjust="spacingAndGlyphs" stroke="#404040" stroke-width="0.35">0.8</text>
<text x="1400.0" y="1683.1" font-size="20.5" fill="#404040" textLength="29.2" lengthAdjust="spacingAndGlyphs" stroke="#404040" stroke-width="0.35">0.6</text>
<text x="1400.0" y="1754.0" font-size="20.5" fill="#404040" textLength="29.2" lengthAdjust="spacingAndGlyphs" stroke="#404040" stroke-width="0.35">0.4</text>
<text x="1400.0" y="1824.9" font-size="20.5" fill="#404040" textLength="29.2" lengthAdjust="spacingAndGlyphs" stroke="#404040" stroke-width="0.35">0.2</text>
<text x="1400.0" y="1896.5" font-size="20.5" fill="#404040" textLength="29.2" lengthAdjust="spacingAndGlyphs" stroke="#404040" stroke-width="0.35">0.0</text>
<text x="1446.6" y="1929.5" font-size="20.5" fill="#404040" textLength="29.1" lengthAdjust="spacingAndGlyphs" stroke="#404040" stroke-width="0.35">.00</text>
<text x="1515.6" y="1929.5" font-size="20.5" fill="#404040" textLength="52.7" lengthAdjust="spacingAndGlyphs" stroke="#404040" stroke-width="0.35">10.00</text>
<text x="1596.3" y="1929.5" font-size="20.5" fill="#404040" textLength="52.2" lengthAdjust="spacingAndGlyphs" stroke="#404040" stroke-width="0.35">20.00</text>
<text x="1677.0" y="1929.5" font-size="20.5" fill="#404040" textLength="51.9" lengthAdjust="spacingAndGlyphs" stroke="#404040" stroke-width="0.35">30.00</text>
<text x="1757.6" y="1929.5" font-size="20.5" fill="#404040" textLength="51.6" lengthAdjust="spacingAndGlyphs" stroke="#404040" stroke-width="0.35">40.00</text>
<text x="1838.4" y="1929.5" font-size="20.5" fill="#404040" textLength="51.9" lengthAdjust="spacingAndGlyphs" stroke="#404040" stroke-width="0.35">50.00</text>
<text x="1918.7" y="1929.5" font-size="20.5" fill="#404040" textLength="52.2" lengthAdjust="spacingAndGlyphs" stroke="#404040" stroke-width="0.35">60.00</text>
<text x="1666.1" y="1964.9" font-size="20.5" font-weight="bold" fill="#2a2728" textLength="73.4" lengthAdjust="spacingAndGlyphs">Months</text>
<text x="-0.8" y="0" font-size="22" font-weight="bold" fill="#2a2728" textLength="151.5" lengthAdjust="spacingAndGlyphs" transform="translate(1382.3,1785.5) rotate(-90)">Cumulative PFS</text>
<text x="1440.3" y="1781.8" font-size="24" fill="#231f20" textLength="421.6" lengthAdjust="spacingAndGlyphs">Median PFS NR v. 47.1 months, p=0.01</text>
<path d="M1438.3,1830.3H1449.5M1450.5,1820.6H1462.2V1829.8" fill="none" stroke="#8a8c90" stroke-width="1.5"/>
<text x="1464.7" y="1832.5" font-size="19" fill="#3a3a3a" textLength="227.2" lengthAdjust="spacingAndGlyphs" stroke="#3a3a3a" stroke-width="0.3">FLC-MS negative (n=46)</text>
<path d="M1438.3,1852.9H1449.5M1450.5,1843.2H1462.2V1852.4" fill="none" stroke="#cfd0d2" stroke-width="1.5"/>
<text x="1464.7" y="1855.1" font-size="19" fill="#3a3a3a" textLength="220.2" lengthAdjust="spacingAndGlyphs" stroke="#3a3a3a" stroke-width="0.3">FLC-MS positive (n=12)</text>
<path d="M1438.3,1871.5H1462.2M1450.2,1862.7V1881.2" fill="none" stroke="#303030" stroke-width="2"/>
<text x="1465.5" y="1879.2" font-size="19" fill="#3a3a3a" textLength="84.7" lengthAdjust="spacingAndGlyphs" stroke="#3a3a3a" stroke-width="0.3">censored</text>
<path d="M1438.3,1895.3H1462.2M1450.2,1886.5V1905.0" fill="none" stroke="#b3b5b7" stroke-width="2"/>
<text x="1465.5" y="1903.0" font-size="19" fill="#3a3a3a" textLength="84.7" lengthAdjust="spacingAndGlyphs" stroke="#3a3a3a" stroke-width="0.3">censored</text>
<text x="1440.0" y="2015.5" font-size="23.5" font-weight="bold" fill="#231f20" textLength="170.2" lengthAdjust="spacingAndGlyphs">Number at risk</text>
<text x="1440.4" y="2041.1" font-size="23.5" fill="#231f20">46</text>
<text x="1439.1" y="2066.2" font-size="23.5" fill="#939598">12</text>
<text x="1536.1" y="2041.1" font-size="23.5" fill="#231f20">46</text>
<text x="1534.8" y="2066.2" font-size="23.5" fill="#939598">12</text>
<text x="1611.9" y="2041.1" font-size="23.5" fill="#231f20">46</text>
<text x="1610.6" y="2066.2" font-size="23.5" fill="#939598">11</text>
<text x="1683.9" y="2041.1" font-size="23.5" fill="#231f20">42</text>
<text x="1682.6" y="2066.2" font-size="23.5" fill="#939598">10</text>
<text x="1754.4" y="2041.1" font-size="23.5" fill="#231f20">35</text>
<text x="1754.3" y="2066.2" font-size="23.5" fill="#939598">8</text>
<text x="1825.4" y="2041.1" font-size="23.5" fill="#231f20">15</text>
<text x="1825.4" y="2066.2" font-size="23.5" fill="#939598">1</text>
<text x="1897.2" y="2041.1" font-size="23.5" fill="#231f20">0</text>
<text x="1897.2" y="2066.2" font-size="23.5" fill="#939598">0</text>
<path d="M1605.5,1532.2H1632.7V1539.6H1647.1V1547.2H1659.9V1555.3H1693.3V1563.0H1718.6V1570.6H1780.3V1580.4H1796.6V1589.3H1814.8V1600.5H1874.1V1622.2H1946.1" fill="none" stroke="#46494e" stroke-width="2.4"/>
<path d="M1750.4,1566.4v8.4M1746.9,1570.6h7M1764.8,1566.4v8.4M1761.3,1570.6h7M1774.9,1566.4v8.4M1771.4,1570.6h7M1776.2,1566.4v8.4M1772.7,1570.6h7M1787.1,1576.2v8.4M1783.6,1580.4h7M1789.3,1576.2v8.4M1785.8,1580.4h7M1791.2,1576.2v8.4M1787.7,1580.4h7M1793.1,1576.2v8.4M1789.6,1580.4h7M1798.0,1585.1v8.4M1794.5,1589.3h7M1800.7,1585.1v8.4M1797.2,1589.3h7M1803.4,1585.1v8.4M1799.9,1589.3h7M1819.2,1596.3v8.4M1815.7,1600.5h7M1841.5,1596.3v8.4M1838.0,1600.5h7M1845.5,1596.3v8.4M1842.0,1600.5h7M1846.9,1596.3v8.4M1843.4,1600.5h7M1849.6,1596.3v8.4M1846.1,1600.5h7M1851.0,1596.3v8.4M1847.5,1600.5h7M1864.6,1596.3v8.4M1861.1,1600.5h7M1876.8,1618.0v8.4M1873.3,1622.2h7M1879.5,1618.0v8.4M1876.0,1622.2h7M1882.2,1618.0v8.4M1878.7,1622.2h7M1886.3,1618.0v8.4M1882.8,1622.2h7M1888.2,1618.0v8.4M1884.7,1622.2h7M1891.8,1618.0v8.4M1888.3,1622.2h7M1909.4,1618.0v8.4M1905.9,1622.2h7M1910.8,1618.0v8.4M1907.3,1622.2h7M1927.1,1618.0v8.4M1923.6,1622.2h7M1943.4,1618.0v8.4M1939.9,1622.2h7" fill="none" stroke="#262426" stroke-width="2.1"/>
<path d="M1461.4,1532.2H1605.0V1562.1H1626.2V1591.5H1711.0V1621.9H1828.7V1674.4H1841.5V1745.1H1873.6V1887.0H1873.6" fill="none" stroke="#a7a9ac" stroke-width="2.0"/>
<path d="M1725.9,1617.7v8.4M1722.4,1621.9h7M1800.1,1617.7v8.4M1796.6,1621.9h7M1806.1,1617.7v8.4M1802.6,1621.9h7M1840.9,1670.2v8.4M1837.4,1674.4h7M1844.2,1740.9v8.4M1840.7,1745.1h7" fill="none" stroke="#a7a9ac" stroke-width="1.8"/>
</svg>
</body></html>
